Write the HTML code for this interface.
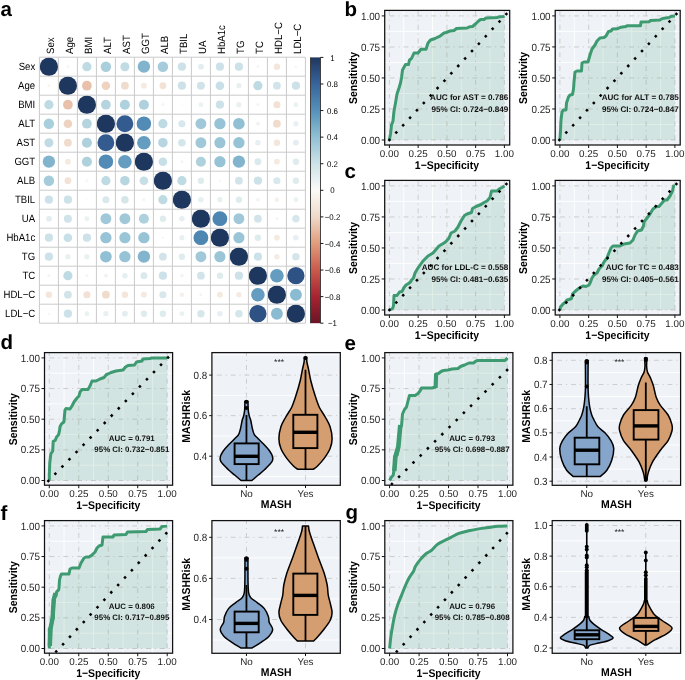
<!DOCTYPE html>
<html><head><meta charset="utf-8"><style>
html,body{margin:0;padding:0;background:#fff;}
svg{display:block;font-family:"Liberation Sans", sans-serif;text-rendering:geometricPrecision;will-change:transform;filter:blur(0.3px);}
</style></head><body>
<svg width="685" height="680" viewBox="0 0 685 680">
<rect width="685" height="680" fill="#fff"/>
<text transform="translate(0.5,15.8)" font-size="20.5" font-weight="bold" fill="#000">a</text>
<text transform="translate(344.6,15.8)" font-size="20.5" font-weight="bold" fill="#000">b</text>
<text transform="translate(344.6,177.9)" font-size="20.5" font-weight="bold" fill="#000">c</text>
<text transform="translate(0.5,348.6)" font-size="20.5" font-weight="bold" fill="#000">d</text>
<text transform="translate(344.4,349.5)" font-size="20.5" font-weight="bold" fill="#000">e</text>
<text transform="translate(0.5,519.5)" font-size="20.5" font-weight="bold" fill="#000">f</text>
<text transform="translate(345.6,519.1)" font-size="20.5" font-weight="bold" fill="#000">g</text>
<rect x="39.4" y="57.2" width="266.0" height="266.0" fill="#fff"/>
<circle cx="48.9" cy="66.7" r="9.2" fill="#1E375F"/>
<circle cx="67.9" cy="66.7" r="1.59" fill="#F9F5F1"/>
<circle cx="86.9" cy="66.7" r="4.6" fill="#BEDAE3"/>
<circle cx="105.9" cy="66.7" r="5.2" fill="#A9CEDC"/>
<circle cx="124.9" cy="66.7" r="4.51" fill="#C1DBE4"/>
<circle cx="143.9" cy="66.7" r="6.17" fill="#82B4CD"/>
<circle cx="162.9" cy="66.7" r="5.28" fill="#A6CCDB"/>
<circle cx="181.9" cy="66.7" r="4.11" fill="#CDE2E8"/>
<circle cx="200.9" cy="66.7" r="2.91" fill="#E4EEF0"/>
<circle cx="219.9" cy="66.7" r="4.11" fill="#CDE2E8"/>
<circle cx="238.9" cy="66.7" r="4.11" fill="#CDE2E8"/>
<circle cx="257.9" cy="66.7" r="1.59" fill="#F4F6F6"/>
<circle cx="276.9" cy="66.7" r="3.19" fill="#F4E6DB"/>
<circle cx="295.9" cy="66.7" r="1.3" fill="#F6F8F6"/>
<circle cx="48.9" cy="85.7" r="1.59" fill="#F9F5F1"/>
<circle cx="67.9" cy="85.7" r="9.2" fill="#1E375F"/>
<circle cx="86.9" cy="85.7" r="4.87" fill="#E9C1AA"/>
<circle cx="105.9" cy="85.7" r="4.32" fill="#EED3C0"/>
<circle cx="124.9" cy="85.7" r="3.9" fill="#F0DCCD"/>
<circle cx="143.9" cy="85.7" r="2.91" fill="#F5EAE0"/>
<circle cx="162.9" cy="85.7" r="3.44" fill="#F3E3D6"/>
<circle cx="181.9" cy="85.7" r="4.11" fill="#CDE2E8"/>
<circle cx="200.9" cy="85.7" r="4.01" fill="#CFE3E9"/>
<circle cx="219.9" cy="85.7" r="4.32" fill="#C7DFE6"/>
<circle cx="238.9" cy="85.7" r="2.6" fill="#E9F0F2"/>
<circle cx="257.9" cy="85.7" r="4.6" fill="#BEDAE3"/>
<circle cx="276.9" cy="85.7" r="3.9" fill="#D2E4EA"/>
<circle cx="295.9" cy="85.7" r="4.11" fill="#CDE2E8"/>
<circle cx="48.9" cy="104.7" r="4.6" fill="#BEDAE3"/>
<circle cx="67.9" cy="104.7" r="4.87" fill="#E9C1AA"/>
<circle cx="86.9" cy="104.7" r="9.2" fill="#1E375F"/>
<circle cx="105.9" cy="104.7" r="4.87" fill="#B5D4E0"/>
<circle cx="124.9" cy="104.7" r="5.04" fill="#AFD1DE"/>
<circle cx="143.9" cy="104.7" r="5.04" fill="#AFD1DE"/>
<circle cx="162.9" cy="104.7" r="1.59" fill="#F9F5F1"/>
<circle cx="181.9" cy="104.7" r="0.92" fill="#F9F9F7"/>
<circle cx="200.9" cy="104.7" r="2.43" fill="#EBF2F2"/>
<circle cx="219.9" cy="104.7" r="4.11" fill="#CDE2E8"/>
<circle cx="238.9" cy="104.7" r="2.6" fill="#E9F0F2"/>
<circle cx="257.9" cy="104.7" r="1.59" fill="#F4F6F6"/>
<circle cx="276.9" cy="104.7" r="3.56" fill="#F2E1D4"/>
<circle cx="295.9" cy="104.7" r="2.43" fill="#EBF2F2"/>
<circle cx="48.9" cy="123.7" r="5.2" fill="#A9CEDC"/>
<circle cx="67.9" cy="123.7" r="4.32" fill="#EED3C0"/>
<circle cx="86.9" cy="123.7" r="4.87" fill="#B5D4E0"/>
<circle cx="105.9" cy="123.7" r="9.2" fill="#1E375F"/>
<circle cx="124.9" cy="123.7" r="8.43" fill="#335B8F"/>
<circle cx="143.9" cy="123.7" r="7.24" fill="#528CB6"/>
<circle cx="162.9" cy="123.7" r="4.6" fill="#BEDAE3"/>
<circle cx="181.9" cy="123.7" r="3.56" fill="#D8E8EC"/>
<circle cx="200.9" cy="123.7" r="5.44" fill="#A0C8D9"/>
<circle cx="219.9" cy="123.7" r="5.67" fill="#97C3D6"/>
<circle cx="238.9" cy="123.7" r="5.82" fill="#91C0D4"/>
<circle cx="257.9" cy="123.7" r="2.06" fill="#F0F4F4"/>
<circle cx="276.9" cy="123.7" r="3.9" fill="#F0DCCD"/>
<circle cx="295.9" cy="123.7" r="2.6" fill="#E9F0F2"/>
<circle cx="48.9" cy="142.7" r="4.51" fill="#C1DBE4"/>
<circle cx="67.9" cy="142.7" r="3.9" fill="#F0DCCD"/>
<circle cx="86.9" cy="142.7" r="5.04" fill="#AFD1DE"/>
<circle cx="105.9" cy="142.7" r="8.43" fill="#335B8F"/>
<circle cx="124.9" cy="142.7" r="9.2" fill="#1E375F"/>
<circle cx="143.9" cy="142.7" r="6.82" fill="#649DC0"/>
<circle cx="162.9" cy="142.7" r="4.78" fill="#B8D6E1"/>
<circle cx="181.9" cy="142.7" r="3.79" fill="#D4E6EA"/>
<circle cx="200.9" cy="142.7" r="5.44" fill="#A0C8D9"/>
<circle cx="219.9" cy="142.7" r="5.6" fill="#9AC5D7"/>
<circle cx="238.9" cy="142.7" r="5.67" fill="#97C3D6"/>
<circle cx="257.9" cy="142.7" r="2.76" fill="#E6EFF1"/>
<circle cx="276.9" cy="142.7" r="3.19" fill="#F4E6DB"/>
<circle cx="295.9" cy="142.7" r="2.91" fill="#E4EEF0"/>
<circle cx="48.9" cy="161.7" r="6.17" fill="#82B4CD"/>
<circle cx="67.9" cy="161.7" r="2.91" fill="#F5EAE0"/>
<circle cx="86.9" cy="161.7" r="5.04" fill="#AFD1DE"/>
<circle cx="105.9" cy="161.7" r="7.24" fill="#528CB6"/>
<circle cx="124.9" cy="161.7" r="6.82" fill="#649DC0"/>
<circle cx="143.9" cy="161.7" r="9.2" fill="#1E375F"/>
<circle cx="162.9" cy="161.7" r="4.32" fill="#C7DFE6"/>
<circle cx="181.9" cy="161.7" r="1.59" fill="#F4F6F6"/>
<circle cx="200.9" cy="161.7" r="5.04" fill="#AFD1DE"/>
<circle cx="219.9" cy="161.7" r="5.67" fill="#97C3D6"/>
<circle cx="238.9" cy="161.7" r="6.17" fill="#82B4CD"/>
<circle cx="257.9" cy="161.7" r="3.44" fill="#DBE9ED"/>
<circle cx="276.9" cy="161.7" r="2.91" fill="#F5EAE0"/>
<circle cx="295.9" cy="161.7" r="3.19" fill="#DFECEE"/>
<circle cx="48.9" cy="180.7" r="5.28" fill="#A6CCDB"/>
<circle cx="67.9" cy="180.7" r="3.44" fill="#F3E3D6"/>
<circle cx="86.9" cy="180.7" r="1.59" fill="#F9F5F1"/>
<circle cx="105.9" cy="180.7" r="4.6" fill="#BEDAE3"/>
<circle cx="124.9" cy="180.7" r="4.78" fill="#B8D6E1"/>
<circle cx="143.9" cy="180.7" r="4.32" fill="#C7DFE6"/>
<circle cx="162.9" cy="180.7" r="9.2" fill="#1E375F"/>
<circle cx="181.9" cy="180.7" r="4.6" fill="#BEDAE3"/>
<circle cx="200.9" cy="180.7" r="3.19" fill="#DFECEE"/>
<circle cx="219.9" cy="180.7" r="1.3" fill="#F6F8F6"/>
<circle cx="238.9" cy="180.7" r="3.9" fill="#D2E4EA"/>
<circle cx="257.9" cy="180.7" r="4.11" fill="#CDE2E8"/>
<circle cx="276.9" cy="180.7" r="3.56" fill="#D8E8EC"/>
<circle cx="295.9" cy="180.7" r="3.19" fill="#DFECEE"/>
<circle cx="48.9" cy="199.7" r="4.11" fill="#CDE2E8"/>
<circle cx="67.9" cy="199.7" r="4.11" fill="#CDE2E8"/>
<circle cx="86.9" cy="199.7" r="0.92" fill="#F9F9F7"/>
<circle cx="105.9" cy="199.7" r="3.56" fill="#D8E8EC"/>
<circle cx="124.9" cy="199.7" r="3.79" fill="#D4E6EA"/>
<circle cx="143.9" cy="199.7" r="1.59" fill="#F4F6F6"/>
<circle cx="162.9" cy="199.7" r="4.6" fill="#BEDAE3"/>
<circle cx="181.9" cy="199.7" r="9.2" fill="#1E375F"/>
<circle cx="200.9" cy="199.7" r="2.76" fill="#E6EFF1"/>
<circle cx="219.9" cy="199.7" r="2.6" fill="#E9F0F2"/>
<circle cx="238.9" cy="199.7" r="3.19" fill="#DFECEE"/>
<circle cx="257.9" cy="199.7" r="1.84" fill="#F2F5F5"/>
<circle cx="276.9" cy="199.7" r="2.25" fill="#F7F0EA"/>
<circle cx="295.9" cy="199.7" r="2.43" fill="#EBF2F2"/>
<circle cx="48.9" cy="218.7" r="2.91" fill="#E4EEF0"/>
<circle cx="67.9" cy="218.7" r="4.01" fill="#CFE3E9"/>
<circle cx="86.9" cy="218.7" r="2.43" fill="#EBF2F2"/>
<circle cx="105.9" cy="218.7" r="5.44" fill="#A0C8D9"/>
<circle cx="124.9" cy="218.7" r="5.44" fill="#A0C8D9"/>
<circle cx="143.9" cy="218.7" r="5.04" fill="#AFD1DE"/>
<circle cx="162.9" cy="218.7" r="3.19" fill="#DFECEE"/>
<circle cx="181.9" cy="218.7" r="2.76" fill="#E6EFF1"/>
<circle cx="200.9" cy="218.7" r="9.2" fill="#1E375F"/>
<circle cx="219.9" cy="218.7" r="7.42" fill="#4E86B2"/>
<circle cx="238.9" cy="218.7" r="5.44" fill="#A0C8D9"/>
<circle cx="257.9" cy="218.7" r="3.9" fill="#D2E4EA"/>
<circle cx="276.9" cy="218.7" r="1.59" fill="#F4F6F6"/>
<circle cx="295.9" cy="218.7" r="3.68" fill="#D6E7EB"/>
<circle cx="48.9" cy="237.7" r="4.11" fill="#CDE2E8"/>
<circle cx="67.9" cy="237.7" r="4.32" fill="#C7DFE6"/>
<circle cx="86.9" cy="237.7" r="4.11" fill="#CDE2E8"/>
<circle cx="105.9" cy="237.7" r="5.67" fill="#97C3D6"/>
<circle cx="124.9" cy="237.7" r="5.6" fill="#9AC5D7"/>
<circle cx="143.9" cy="237.7" r="5.67" fill="#97C3D6"/>
<circle cx="162.9" cy="237.7" r="1.3" fill="#F6F8F6"/>
<circle cx="181.9" cy="237.7" r="2.6" fill="#E9F0F2"/>
<circle cx="200.9" cy="237.7" r="7.42" fill="#4E86B2"/>
<circle cx="219.9" cy="237.7" r="9.2" fill="#1E375F"/>
<circle cx="238.9" cy="237.7" r="5.6" fill="#9AC5D7"/>
<circle cx="257.9" cy="237.7" r="3.19" fill="#DFECEE"/>
<circle cx="276.9" cy="237.7" r="2.91" fill="#F5EAE0"/>
<circle cx="295.9" cy="237.7" r="2.76" fill="#E6EFF1"/>
<circle cx="48.9" cy="256.7" r="4.11" fill="#CDE2E8"/>
<circle cx="67.9" cy="256.7" r="2.6" fill="#E9F0F2"/>
<circle cx="86.9" cy="256.7" r="2.6" fill="#E9F0F2"/>
<circle cx="105.9" cy="256.7" r="5.82" fill="#91C0D4"/>
<circle cx="124.9" cy="256.7" r="5.67" fill="#97C3D6"/>
<circle cx="143.9" cy="256.7" r="6.17" fill="#82B4CD"/>
<circle cx="162.9" cy="256.7" r="3.9" fill="#D2E4EA"/>
<circle cx="181.9" cy="256.7" r="3.19" fill="#DFECEE"/>
<circle cx="200.9" cy="256.7" r="5.44" fill="#A0C8D9"/>
<circle cx="219.9" cy="256.7" r="5.6" fill="#9AC5D7"/>
<circle cx="238.9" cy="256.7" r="9.2" fill="#1E375F"/>
<circle cx="257.9" cy="256.7" r="4.11" fill="#CDE2E8"/>
<circle cx="276.9" cy="256.7" r="2.76" fill="#F6EBE2"/>
<circle cx="295.9" cy="256.7" r="3.79" fill="#D4E6EA"/>
<circle cx="48.9" cy="275.7" r="1.59" fill="#F4F6F6"/>
<circle cx="67.9" cy="275.7" r="4.6" fill="#BEDAE3"/>
<circle cx="86.9" cy="275.7" r="1.59" fill="#F4F6F6"/>
<circle cx="105.9" cy="275.7" r="2.06" fill="#F0F4F4"/>
<circle cx="124.9" cy="275.7" r="2.76" fill="#E6EFF1"/>
<circle cx="143.9" cy="275.7" r="3.44" fill="#DBE9ED"/>
<circle cx="162.9" cy="275.7" r="4.11" fill="#CDE2E8"/>
<circle cx="181.9" cy="275.7" r="1.84" fill="#F2F5F5"/>
<circle cx="200.9" cy="275.7" r="3.9" fill="#D2E4EA"/>
<circle cx="219.9" cy="275.7" r="3.19" fill="#DFECEE"/>
<circle cx="238.9" cy="275.7" r="4.11" fill="#CDE2E8"/>
<circle cx="257.9" cy="275.7" r="9.2" fill="#1E375F"/>
<circle cx="276.9" cy="275.7" r="6.82" fill="#649DC0"/>
<circle cx="295.9" cy="275.7" r="8.63" fill="#2E5283"/>
<circle cx="48.9" cy="294.7" r="3.19" fill="#F4E6DB"/>
<circle cx="67.9" cy="294.7" r="3.9" fill="#D2E4EA"/>
<circle cx="86.9" cy="294.7" r="3.56" fill="#F2E1D4"/>
<circle cx="105.9" cy="294.7" r="3.9" fill="#F0DCCD"/>
<circle cx="124.9" cy="294.7" r="3.19" fill="#F4E6DB"/>
<circle cx="143.9" cy="294.7" r="2.91" fill="#F5EAE0"/>
<circle cx="162.9" cy="294.7" r="3.56" fill="#D8E8EC"/>
<circle cx="181.9" cy="294.7" r="2.25" fill="#F7F0EA"/>
<circle cx="200.9" cy="294.7" r="1.59" fill="#F4F6F6"/>
<circle cx="219.9" cy="294.7" r="2.91" fill="#F5EAE0"/>
<circle cx="238.9" cy="294.7" r="2.76" fill="#F6EBE2"/>
<circle cx="257.9" cy="294.7" r="6.82" fill="#649DC0"/>
<circle cx="276.9" cy="294.7" r="9.2" fill="#1E375F"/>
<circle cx="295.9" cy="294.7" r="5.96" fill="#8BBBD1"/>
<circle cx="48.9" cy="313.7" r="1.3" fill="#F6F8F6"/>
<circle cx="67.9" cy="313.7" r="4.11" fill="#CDE2E8"/>
<circle cx="86.9" cy="313.7" r="2.43" fill="#EBF2F2"/>
<circle cx="105.9" cy="313.7" r="2.6" fill="#E9F0F2"/>
<circle cx="124.9" cy="313.7" r="2.91" fill="#E4EEF0"/>
<circle cx="143.9" cy="313.7" r="3.19" fill="#DFECEE"/>
<circle cx="162.9" cy="313.7" r="3.19" fill="#DFECEE"/>
<circle cx="181.9" cy="313.7" r="2.43" fill="#EBF2F2"/>
<circle cx="200.9" cy="313.7" r="3.68" fill="#D6E7EB"/>
<circle cx="219.9" cy="313.7" r="2.76" fill="#E6EFF1"/>
<circle cx="238.9" cy="313.7" r="3.79" fill="#D4E6EA"/>
<circle cx="257.9" cy="313.7" r="8.63" fill="#2E5283"/>
<circle cx="276.9" cy="313.7" r="5.96" fill="#8BBBD1"/>
<circle cx="295.9" cy="313.7" r="9.2" fill="#1E375F"/>
<path d="M39.4 57.2V323.2M39.4 57.2H305.4M58.4 57.2V323.2M39.4 76.2H305.4M77.4 57.2V323.2M39.4 95.2H305.4M96.4 57.2V323.2M39.4 114.2H305.4M115.4 57.2V323.2M39.4 133.2H305.4M134.4 57.2V323.2M39.4 152.2H305.4M153.4 57.2V323.2M39.4 171.2H305.4M172.4 57.2V323.2M39.4 190.2H305.4M191.4 57.2V323.2M39.4 209.2H305.4M210.4 57.2V323.2M39.4 228.2H305.4M229.4 57.2V323.2M39.4 247.2H305.4M248.4 57.2V323.2M39.4 266.2H305.4M267.4 57.2V323.2M39.4 285.2H305.4M286.4 57.2V323.2M39.4 304.2H305.4M305.4 57.2V323.2M39.4 323.2H305.4" stroke="#CACACA" stroke-width="1" fill="none"/>
<text transform="translate(35.2,70.1) scale(1,1.1)" font-size="9.6" text-anchor="end" fill="#000">Sex</text>
<text transform="translate(53.6,53.9) rotate(-90) scale(1,1.1)" font-size="9.6" fill="#000">Sex</text>
<text transform="translate(35.2,89.1) scale(1,1.1)" font-size="9.6" text-anchor="end" fill="#000">Age</text>
<text transform="translate(72.6,53.9) rotate(-90) scale(1,1.1)" font-size="9.6" fill="#000">Age</text>
<text transform="translate(35.2,108.1) scale(1,1.1)" font-size="9.6" text-anchor="end" fill="#000">BMI</text>
<text transform="translate(91.6,53.9) rotate(-90) scale(1,1.1)" font-size="9.6" fill="#000">BMI</text>
<text transform="translate(35.2,127.1) scale(1,1.1)" font-size="9.6" text-anchor="end" fill="#000">ALT</text>
<text transform="translate(110.6,53.9) rotate(-90) scale(1,1.1)" font-size="9.6" fill="#000">ALT</text>
<text transform="translate(35.2,146.1) scale(1,1.1)" font-size="9.6" text-anchor="end" fill="#000">AST</text>
<text transform="translate(129.6,53.9) rotate(-90) scale(1,1.1)" font-size="9.6" fill="#000">AST</text>
<text transform="translate(35.2,165.1) scale(1,1.1)" font-size="9.6" text-anchor="end" fill="#000">GGT</text>
<text transform="translate(148.6,53.9) rotate(-90) scale(1,1.1)" font-size="9.6" fill="#000">GGT</text>
<text transform="translate(35.2,184.1) scale(1,1.1)" font-size="9.6" text-anchor="end" fill="#000">ALB</text>
<text transform="translate(167.6,53.9) rotate(-90) scale(1,1.1)" font-size="9.6" fill="#000">ALB</text>
<text transform="translate(35.2,203.1) scale(1,1.1)" font-size="9.6" text-anchor="end" fill="#000">TBIL</text>
<text transform="translate(186.6,53.9) rotate(-90) scale(1,1.1)" font-size="9.6" fill="#000">TBIL</text>
<text transform="translate(35.2,222.1) scale(1,1.1)" font-size="9.6" text-anchor="end" fill="#000">UA</text>
<text transform="translate(205.6,53.9) rotate(-90) scale(1,1.1)" font-size="9.6" fill="#000">UA</text>
<text transform="translate(35.2,241.1) scale(1,1.1)" font-size="9.6" text-anchor="end" fill="#000">HbA1c</text>
<text transform="translate(224.6,53.9) rotate(-90) scale(1,1.1)" font-size="9.6" fill="#000">HbA1c</text>
<text transform="translate(35.2,260.1) scale(1,1.1)" font-size="9.6" text-anchor="end" fill="#000">TG</text>
<text transform="translate(243.6,53.9) rotate(-90) scale(1,1.1)" font-size="9.6" fill="#000">TG</text>
<text transform="translate(35.2,279.1) scale(1,1.1)" font-size="9.6" text-anchor="end" fill="#000">TC</text>
<text transform="translate(262.6,53.9) rotate(-90) scale(1,1.1)" font-size="9.6" fill="#000">TC</text>
<text transform="translate(35.2,298.1) scale(1,1.1)" font-size="9.6" text-anchor="end" fill="#000">HDL−C</text>
<text transform="translate(281.6,53.9) rotate(-90) scale(1,1.1)" font-size="9.6" fill="#000">HDL−C</text>
<text transform="translate(35.2,317.1) scale(1,1.1)" font-size="9.6" text-anchor="end" fill="#000">LDL−C</text>
<text transform="translate(300.6,53.9) rotate(-90) scale(1,1.1)" font-size="9.6" fill="#000">LDL−C</text>
<defs><linearGradient id="cb" x1="0" y1="0" x2="0" y2="1"><stop offset="0.0" stop-color="#1E375F"/><stop offset="0.1" stop-color="#38649B"/><stop offset="0.2" stop-color="#5591B9"/><stop offset="0.3" stop-color="#91C0D4"/><stop offset="0.4" stop-color="#CDE2E8"/><stop offset="0.5" stop-color="#FBFAF8"/><stop offset="0.6" stop-color="#EFD9C8"/><stop offset="0.7" stop-color="#E19C7C"/><stop offset="0.8" stop-color="#C95A4C"/><stop offset="0.9" stop-color="#A72331"/><stop offset="1.0" stop-color="#6A1526"/></linearGradient></defs>
<rect x="310.5" y="57.4" width="10" height="265.8" fill="url(#cb)"/>
<path d="M310.5 57.4V323.2M320.5 57.4V323.2" stroke="#333" stroke-width="0.9"/>
<text transform="translate(332.5,60.5) scale(1,1.05)" font-size="7.9" text-anchor="middle" fill="#000">1</text>
<text transform="translate(332.5,87.08) scale(1,1.05)" font-size="7.9" text-anchor="middle" fill="#000">0.8</text>
<text transform="translate(332.5,113.66) scale(1,1.05)" font-size="7.9" text-anchor="middle" fill="#000">0.6</text>
<text transform="translate(332.5,140.24) scale(1,1.05)" font-size="7.9" text-anchor="middle" fill="#000">0.4</text>
<text transform="translate(332.5,166.82) scale(1,1.05)" font-size="7.9" text-anchor="middle" fill="#000">0.2</text>
<text transform="translate(332.5,193.4) scale(1,1.05)" font-size="7.9" text-anchor="middle" fill="#000">0</text>
<text transform="translate(332.5,219.98) scale(1,1.05)" font-size="7.9" text-anchor="middle" fill="#000">−0.2</text>
<text transform="translate(332.5,246.56) scale(1,1.05)" font-size="7.9" text-anchor="middle" fill="#000">−0.4</text>
<text transform="translate(332.5,273.14) scale(1,1.05)" font-size="7.9" text-anchor="middle" fill="#000">−0.6</text>
<text transform="translate(332.5,299.72) scale(1,1.05)" font-size="7.9" text-anchor="middle" fill="#000">−0.8</text>
<text transform="translate(332.5,326.3) scale(1,1.05)" font-size="7.9" text-anchor="middle" fill="#000">−1</text>
<path d="M320.5 57.4h2.9M320.5 83.98h2.9M320.5 110.56h2.9M320.5 137.14h2.9M320.5 163.72h2.9M320.5 190.3h2.9M320.5 216.88h2.9M320.5 243.46h2.9M320.5 270.04h2.9M320.5 296.62h2.9M320.5 323.2h2.9" stroke="#000" stroke-width="0.9"/>
<rect x="384.7" y="10.4" width="125" height="134.6" fill="#EFF2F7"/>
<path d="M403.77 10.4V145M384.7 124.49H509.7M432.52 10.4V145M384.7 93.46H509.7M461.27 10.4V145M384.7 62.44H509.7M490.02 10.4V145M384.7 31.41H509.7" stroke="#fff" stroke-width="0.9"/>
<path d="M389.4 145V10.4M384.7 140H509.7M418.15 145V10.4M384.7 108.97H509.7M446.9 145V10.4M384.7 77.95H509.7M475.65 145V10.4M384.7 46.93H509.7M504.4 145V10.4M384.7 15.9H509.7" stroke="#C8C8C8" stroke-width="0.9" stroke-dasharray="1.1 3.9 4.9 3.9"/>
<path d="M389.4 140L390.5 134L391.5 125L393 121L394 111L395.5 103L397 94L399 88L400.5 83L401.5 78L402.5 70L405.5 64.5L408.5 64.5L409.5 60L411.5 58.5L414 53L418 53L421 49.2L426 49.2L428 43L430.5 40L435 38.5L440 36.2L444 33L446 32.5L450 31L454 30.5L456.5 28.5L461 28.3L467 28L469.5 26.8L472.5 26.5L476 23.5L478 21.5L480.5 19.5L484 19.5L486 18L491 17.8L497 17.5L499 16.8L503.5 16.5L504.4 15.9L504.4 140Z" fill="#3E9A70" fill-opacity="0.16"/>
<path d="M389.4 140L390.5 134L391.5 125L393 121L394 111L395.5 103L397 94L399 88L400.5 83L401.5 78L402.5 70L405.5 64.5L408.5 64.5L409.5 60L411.5 58.5L414 53L418 53L421 49.2L426 49.2L428 43L430.5 40L435 38.5L440 36.2L444 33L446 32.5L450 31L454 30.5L456.5 28.5L461 28.3L467 28L469.5 26.8L472.5 26.5L476 23.5L478 21.5L480.5 19.5L484 19.5L486 18L491 17.8L497 17.5L499 16.8L503.5 16.5L504.4 15.9" fill="none" stroke="#3E9A70" stroke-width="3.0" stroke-linejoin="round"/>
<rect x="388.15" y="138.75" width="2.5" height="2.5" fill="#000" transform="rotate(45 389.4 140)"/>
<rect x="395.03" y="131.34" width="2.5" height="2.5" fill="#000" transform="rotate(45 396.28 132.59)"/>
<rect x="401.91" y="123.93" width="2.5" height="2.5" fill="#000" transform="rotate(45 403.16 125.18)"/>
<rect x="408.8" y="116.51" width="2.5" height="2.5" fill="#000" transform="rotate(45 410.05 117.76)"/>
<rect x="415.68" y="109.1" width="2.5" height="2.5" fill="#000" transform="rotate(45 416.93 110.35)"/>
<rect x="422.56" y="101.69" width="2.5" height="2.5" fill="#000" transform="rotate(45 423.81 102.94)"/>
<rect x="429.44" y="94.28" width="2.5" height="2.5" fill="#000" transform="rotate(45 430.69 95.53)"/>
<rect x="436.33" y="86.87" width="2.5" height="2.5" fill="#000" transform="rotate(45 437.58 88.12)"/>
<rect x="443.21" y="79.46" width="2.5" height="2.5" fill="#000" transform="rotate(45 444.46 80.71)"/>
<rect x="450.09" y="72.04" width="2.5" height="2.5" fill="#000" transform="rotate(45 451.34 73.29)"/>
<rect x="456.97" y="64.63" width="2.5" height="2.5" fill="#000" transform="rotate(45 458.22 65.88)"/>
<rect x="463.86" y="57.22" width="2.5" height="2.5" fill="#000" transform="rotate(45 465.11 58.47)"/>
<rect x="470.74" y="49.81" width="2.5" height="2.5" fill="#000" transform="rotate(45 471.99 51.06)"/>
<rect x="477.62" y="42.4" width="2.5" height="2.5" fill="#000" transform="rotate(45 478.87 43.65)"/>
<rect x="484.5" y="34.99" width="2.5" height="2.5" fill="#000" transform="rotate(45 485.75 36.24)"/>
<rect x="491.39" y="27.57" width="2.5" height="2.5" fill="#000" transform="rotate(45 492.64 28.82)"/>
<rect x="498.27" y="20.16" width="2.5" height="2.5" fill="#000" transform="rotate(45 499.52 21.41)"/>
<rect x="505.15" y="12.75" width="2.5" height="2.5" fill="#000" transform="rotate(45 506.4 14)"/>
<text transform="translate(508.3,99.7)" font-size="8.1" font-weight="bold" text-anchor="end" fill="#111">AUC for AST = 0.786</text>
<text transform="translate(508.3,111.5)" font-size="8.1" font-weight="bold" text-anchor="end" fill="#111">95% CI: 0.724−0.849</text>
<rect x="384.7" y="10.4" width="125" height="134.6" fill="none" stroke="#111" stroke-width="1.25"/>
<text transform="translate(380.1,143.6) scale(1,1.07)" font-size="9.85" text-anchor="end" fill="#262626">0.00</text>
<text transform="translate(389.4,156.6)" font-size="9.85" text-anchor="middle" fill="#262626">0.00</text>
<text transform="translate(380.1,112.57) scale(1,1.07)" font-size="9.85" text-anchor="end" fill="#262626">0.25</text>
<text transform="translate(418.15,156.6)" font-size="9.85" text-anchor="middle" fill="#262626">0.25</text>
<text transform="translate(380.1,81.55) scale(1,1.07)" font-size="9.85" text-anchor="end" fill="#262626">0.50</text>
<text transform="translate(446.9,156.6)" font-size="9.85" text-anchor="middle" fill="#262626">0.50</text>
<text transform="translate(380.1,50.53) scale(1,1.07)" font-size="9.85" text-anchor="end" fill="#262626">0.75</text>
<text transform="translate(475.65,156.6)" font-size="9.85" text-anchor="middle" fill="#262626">0.75</text>
<text transform="translate(380.1,19.5) scale(1,1.07)" font-size="9.85" text-anchor="end" fill="#262626">1.00</text>
<text transform="translate(504.4,156.6)" font-size="9.85" text-anchor="middle" fill="#262626">1.00</text>
<path d="M384.7 140h-3M389.4 145v3M384.7 108.97h-3M418.15 145v3M384.7 77.95h-3M446.9 145v3M384.7 46.93h-3M475.65 145v3M384.7 15.9h-3M504.4 145v3" stroke="#111" stroke-width="1"/>
<text transform="translate(446.9,169.2) scale(1,1.07)" font-size="10.45" font-weight="bold" text-anchor="middle" fill="#000">1−Specificity</text>
<text transform="translate(356.7,77.95) rotate(-90) scale(1,1.09)" font-size="10.45" font-weight="bold" text-anchor="middle" fill="#000">Sensitivity</text>
<rect x="555.2" y="10.4" width="125" height="134.6" fill="#EFF2F7"/>
<path d="M574.27 10.4V145M555.2 124.49H680.2M603.02 10.4V145M555.2 93.46H680.2M631.77 10.4V145M555.2 62.44H680.2M660.52 10.4V145M555.2 31.41H680.2" stroke="#fff" stroke-width="0.9"/>
<path d="M559.9 145V10.4M555.2 140H680.2M588.65 145V10.4M555.2 108.97H680.2M617.4 145V10.4M555.2 77.95H680.2M646.15 145V10.4M555.2 46.93H680.2M674.9 145V10.4M555.2 15.9H680.2" stroke="#C8C8C8" stroke-width="0.9" stroke-dasharray="1.1 3.9 4.9 3.9"/>
<path d="M559.9 140L560.5 131L561 120L562 112L563.5 110L566 110L566.5 103L568.5 97L570 95L572.5 94.5L573.5 89L574 82L575 72L577 71L581.5 71L582 63L584 62L588 62L590 55L592 49L595 45L597 41L600 38L604 37.5L606 36L608.5 31.5L611 31L612.5 29L617 28.8L621 27.2L626 26.5L627 25.8L640.5 25.8L641 22L649 21.8L650.5 20.5L660 20L661 19.2L664 18.2L669 17.5L671.5 16.2L674.9 15.9L674.9 140Z" fill="#3E9A70" fill-opacity="0.16"/>
<path d="M559.9 140L560.5 131L561 120L562 112L563.5 110L566 110L566.5 103L568.5 97L570 95L572.5 94.5L573.5 89L574 82L575 72L577 71L581.5 71L582 63L584 62L588 62L590 55L592 49L595 45L597 41L600 38L604 37.5L606 36L608.5 31.5L611 31L612.5 29L617 28.8L621 27.2L626 26.5L627 25.8L640.5 25.8L641 22L649 21.8L650.5 20.5L660 20L661 19.2L664 18.2L669 17.5L671.5 16.2L674.9 15.9" fill="none" stroke="#3E9A70" stroke-width="3.0" stroke-linejoin="round"/>
<rect x="558.15" y="138.75" width="2.5" height="2.5" fill="#000" transform="rotate(45 559.4 140)"/>
<rect x="565.03" y="131.34" width="2.5" height="2.5" fill="#000" transform="rotate(45 566.28 132.59)"/>
<rect x="571.91" y="123.93" width="2.5" height="2.5" fill="#000" transform="rotate(45 573.16 125.18)"/>
<rect x="578.8" y="116.51" width="2.5" height="2.5" fill="#000" transform="rotate(45 580.05 117.76)"/>
<rect x="585.68" y="109.1" width="2.5" height="2.5" fill="#000" transform="rotate(45 586.93 110.35)"/>
<rect x="592.56" y="101.69" width="2.5" height="2.5" fill="#000" transform="rotate(45 593.81 102.94)"/>
<rect x="599.44" y="94.28" width="2.5" height="2.5" fill="#000" transform="rotate(45 600.69 95.53)"/>
<rect x="606.33" y="86.87" width="2.5" height="2.5" fill="#000" transform="rotate(45 607.58 88.12)"/>
<rect x="613.21" y="79.46" width="2.5" height="2.5" fill="#000" transform="rotate(45 614.46 80.71)"/>
<rect x="620.09" y="72.04" width="2.5" height="2.5" fill="#000" transform="rotate(45 621.34 73.29)"/>
<rect x="626.97" y="64.63" width="2.5" height="2.5" fill="#000" transform="rotate(45 628.22 65.88)"/>
<rect x="633.86" y="57.22" width="2.5" height="2.5" fill="#000" transform="rotate(45 635.11 58.47)"/>
<rect x="640.74" y="49.81" width="2.5" height="2.5" fill="#000" transform="rotate(45 641.99 51.06)"/>
<rect x="647.62" y="42.4" width="2.5" height="2.5" fill="#000" transform="rotate(45 648.87 43.65)"/>
<rect x="654.5" y="34.99" width="2.5" height="2.5" fill="#000" transform="rotate(45 655.75 36.24)"/>
<rect x="661.39" y="27.57" width="2.5" height="2.5" fill="#000" transform="rotate(45 662.64 28.82)"/>
<rect x="668.27" y="20.16" width="2.5" height="2.5" fill="#000" transform="rotate(45 669.52 21.41)"/>
<rect x="675.15" y="12.75" width="2.5" height="2.5" fill="#000" transform="rotate(45 676.4 14)"/>
<text transform="translate(678.8,99.7)" font-size="8.1" font-weight="bold" text-anchor="end" fill="#111">AUC for ALT = 0.785</text>
<text transform="translate(678.8,111.5)" font-size="8.1" font-weight="bold" text-anchor="end" fill="#111">95% CI: 0.724−0.847</text>
<rect x="555.2" y="10.4" width="125" height="134.6" fill="none" stroke="#111" stroke-width="1.25"/>
<text transform="translate(550.6,143.6) scale(1,1.07)" font-size="9.85" text-anchor="end" fill="#262626">0.00</text>
<text transform="translate(559.9,156.6)" font-size="9.85" text-anchor="middle" fill="#262626">0.00</text>
<text transform="translate(550.6,112.57) scale(1,1.07)" font-size="9.85" text-anchor="end" fill="#262626">0.25</text>
<text transform="translate(588.65,156.6)" font-size="9.85" text-anchor="middle" fill="#262626">0.25</text>
<text transform="translate(550.6,81.55) scale(1,1.07)" font-size="9.85" text-anchor="end" fill="#262626">0.50</text>
<text transform="translate(617.4,156.6)" font-size="9.85" text-anchor="middle" fill="#262626">0.50</text>
<text transform="translate(550.6,50.53) scale(1,1.07)" font-size="9.85" text-anchor="end" fill="#262626">0.75</text>
<text transform="translate(646.15,156.6)" font-size="9.85" text-anchor="middle" fill="#262626">0.75</text>
<text transform="translate(550.6,19.5) scale(1,1.07)" font-size="9.85" text-anchor="end" fill="#262626">1.00</text>
<text transform="translate(674.9,156.6)" font-size="9.85" text-anchor="middle" fill="#262626">1.00</text>
<path d="M555.2 140h-3M559.9 145v3M555.2 108.97h-3M588.65 145v3M555.2 77.95h-3M617.4 145v3M555.2 46.93h-3M646.15 145v3M555.2 15.9h-3M674.9 145v3" stroke="#111" stroke-width="1"/>
<text transform="translate(617.4,169.2) scale(1,1.07)" font-size="10.45" font-weight="bold" text-anchor="middle" fill="#000">1−Specificity</text>
<text transform="translate(527.2,77.95) rotate(-90) scale(1,1.09)" font-size="10.45" font-weight="bold" text-anchor="middle" fill="#000">Sensitivity</text>
<rect x="384.7" y="180.4" width="125" height="134.6" fill="#EFF2F7"/>
<path d="M403.77 180.4V315M384.7 294.49H509.7M432.52 180.4V315M384.7 263.46H509.7M461.27 180.4V315M384.7 232.44H509.7M490.02 180.4V315M384.7 201.41H509.7" stroke="#fff" stroke-width="0.9"/>
<path d="M389.4 315V180.4M384.7 310H509.7M418.15 315V180.4M384.7 278.98H509.7M446.9 315V180.4M384.7 247.95H509.7M475.65 315V180.4M384.7 216.93H509.7M504.4 315V180.4M384.7 185.9H509.7" stroke="#C8C8C8" stroke-width="0.9" stroke-dasharray="1.1 3.9 4.9 3.9"/>
<path d="M389.4 310L392.5 308.5L393.5 306L394 295.5L397 295.5L399.5 292L402 291.5L404 287.5L406 285L408.5 283.5L410.5 282L411.5 280L413.5 278L415 273L418 268L423 261L428 256L433 253L439 246L444 243L446 241.5L449 238L451 233L455 231L458 227L461 221L464.5 215.5L467 214L471.5 212.5L472.5 208.5L476 206.5L481 204.5L484 202.5L487 201L490 197.5L491.5 191L497 191L500 188.5L503 187L504.4 185.9L504.4 310Z" fill="#3E9A70" fill-opacity="0.16"/>
<path d="M389.4 310L392.5 308.5L393.5 306L394 295.5L397 295.5L399.5 292L402 291.5L404 287.5L406 285L408.5 283.5L410.5 282L411.5 280L413.5 278L415 273L418 268L423 261L428 256L433 253L439 246L444 243L446 241.5L449 238L451 233L455 231L458 227L461 221L464.5 215.5L467 214L471.5 212.5L472.5 208.5L476 206.5L481 204.5L484 202.5L487 201L490 197.5L491.5 191L497 191L500 188.5L503 187L504.4 185.9" fill="none" stroke="#3E9A70" stroke-width="3.0" stroke-linejoin="round"/>
<rect x="388.15" y="308.75" width="2.5" height="2.5" fill="#000" transform="rotate(45 389.4 310)"/>
<rect x="395.03" y="301.34" width="2.5" height="2.5" fill="#000" transform="rotate(45 396.28 302.59)"/>
<rect x="401.91" y="293.93" width="2.5" height="2.5" fill="#000" transform="rotate(45 403.16 295.18)"/>
<rect x="408.8" y="286.51" width="2.5" height="2.5" fill="#000" transform="rotate(45 410.05 287.76)"/>
<rect x="415.68" y="279.1" width="2.5" height="2.5" fill="#000" transform="rotate(45 416.93 280.35)"/>
<rect x="422.56" y="271.69" width="2.5" height="2.5" fill="#000" transform="rotate(45 423.81 272.94)"/>
<rect x="429.44" y="264.28" width="2.5" height="2.5" fill="#000" transform="rotate(45 430.69 265.53)"/>
<rect x="436.33" y="256.87" width="2.5" height="2.5" fill="#000" transform="rotate(45 437.58 258.12)"/>
<rect x="443.21" y="249.46" width="2.5" height="2.5" fill="#000" transform="rotate(45 444.46 250.71)"/>
<rect x="450.09" y="242.04" width="2.5" height="2.5" fill="#000" transform="rotate(45 451.34 243.29)"/>
<rect x="456.97" y="234.63" width="2.5" height="2.5" fill="#000" transform="rotate(45 458.22 235.88)"/>
<rect x="463.86" y="227.22" width="2.5" height="2.5" fill="#000" transform="rotate(45 465.11 228.47)"/>
<rect x="470.74" y="219.81" width="2.5" height="2.5" fill="#000" transform="rotate(45 471.99 221.06)"/>
<rect x="477.62" y="212.4" width="2.5" height="2.5" fill="#000" transform="rotate(45 478.87 213.65)"/>
<rect x="484.5" y="204.99" width="2.5" height="2.5" fill="#000" transform="rotate(45 485.75 206.24)"/>
<rect x="491.39" y="197.57" width="2.5" height="2.5" fill="#000" transform="rotate(45 492.64 198.82)"/>
<rect x="498.27" y="190.16" width="2.5" height="2.5" fill="#000" transform="rotate(45 499.52 191.41)"/>
<rect x="505.15" y="182.75" width="2.5" height="2.5" fill="#000" transform="rotate(45 506.4 184)"/>
<text transform="translate(508.3,269.7)" font-size="8.1" font-weight="bold" text-anchor="end" fill="#111">AUC for LDL-C = 0.558</text>
<text transform="translate(508.3,281.5)" font-size="8.1" font-weight="bold" text-anchor="end" fill="#111">95% CI: 0.481−0.635</text>
<rect x="384.7" y="180.4" width="125" height="134.6" fill="none" stroke="#111" stroke-width="1.25"/>
<text transform="translate(380.1,313.6) scale(1,1.07)" font-size="9.85" text-anchor="end" fill="#262626">0.00</text>
<text transform="translate(389.4,326.6)" font-size="9.85" text-anchor="middle" fill="#262626">0.00</text>
<text transform="translate(380.1,282.58) scale(1,1.07)" font-size="9.85" text-anchor="end" fill="#262626">0.25</text>
<text transform="translate(418.15,326.6)" font-size="9.85" text-anchor="middle" fill="#262626">0.25</text>
<text transform="translate(380.1,251.55) scale(1,1.07)" font-size="9.85" text-anchor="end" fill="#262626">0.50</text>
<text transform="translate(446.9,326.6)" font-size="9.85" text-anchor="middle" fill="#262626">0.50</text>
<text transform="translate(380.1,220.53) scale(1,1.07)" font-size="9.85" text-anchor="end" fill="#262626">0.75</text>
<text transform="translate(475.65,326.6)" font-size="9.85" text-anchor="middle" fill="#262626">0.75</text>
<text transform="translate(380.1,189.5) scale(1,1.07)" font-size="9.85" text-anchor="end" fill="#262626">1.00</text>
<text transform="translate(504.4,326.6)" font-size="9.85" text-anchor="middle" fill="#262626">1.00</text>
<path d="M384.7 310h-3M389.4 315v3M384.7 278.98h-3M418.15 315v3M384.7 247.95h-3M446.9 315v3M384.7 216.93h-3M475.65 315v3M384.7 185.9h-3M504.4 315v3" stroke="#111" stroke-width="1"/>
<text transform="translate(446.9,339.2) scale(1,1.07)" font-size="10.45" font-weight="bold" text-anchor="middle" fill="#000">1−Specificity</text>
<text transform="translate(356.7,247.95) rotate(-90) scale(1,1.09)" font-size="10.45" font-weight="bold" text-anchor="middle" fill="#000">Sensitivity</text>
<rect x="555.2" y="180.4" width="125" height="134.6" fill="#EFF2F7"/>
<path d="M574.27 180.4V315M555.2 294.49H680.2M603.02 180.4V315M555.2 263.46H680.2M631.77 180.4V315M555.2 232.44H680.2M660.52 180.4V315M555.2 201.41H680.2" stroke="#fff" stroke-width="0.9"/>
<path d="M559.9 315V180.4M555.2 310H680.2M588.65 315V180.4M555.2 278.98H680.2M617.4 315V180.4M555.2 247.95H680.2M646.15 315V180.4M555.2 216.93H680.2M674.9 315V180.4M555.2 185.9H680.2" stroke="#C8C8C8" stroke-width="0.9" stroke-dasharray="1.1 3.9 4.9 3.9"/>
<path d="M559.9 310L560.5 307L563 304L565 302.5L567 300L569 299.5L571.5 298.5L572.5 294L575 291.5L578 289L581 287L583 286L586 286.5L589 285L590.5 282L592 278L594 275L597 273L599 269L602 266L604 262L607 258L608.5 254L611 248L613 246L620 246L624 244L630 243L633 240L635 235L637.5 231L641.5 230L643.5 226L644 222L647 218L650 214L653 209L656.5 206.5L659 206.5L662 203L664.5 200L667 200L670 196L672.5 191L673.5 186L674.9 185.9L674.9 310Z" fill="#3E9A70" fill-opacity="0.16"/>
<path d="M559.9 310L560.5 307L563 304L565 302.5L567 300L569 299.5L571.5 298.5L572.5 294L575 291.5L578 289L581 287L583 286L586 286.5L589 285L590.5 282L592 278L594 275L597 273L599 269L602 266L604 262L607 258L608.5 254L611 248L613 246L620 246L624 244L630 243L633 240L635 235L637.5 231L641.5 230L643.5 226L644 222L647 218L650 214L653 209L656.5 206.5L659 206.5L662 203L664.5 200L667 200L670 196L672.5 191L673.5 186L674.9 185.9" fill="none" stroke="#3E9A70" stroke-width="3.0" stroke-linejoin="round"/>
<rect x="558.15" y="308.75" width="2.5" height="2.5" fill="#000" transform="rotate(45 559.4 310)"/>
<rect x="565.03" y="301.34" width="2.5" height="2.5" fill="#000" transform="rotate(45 566.28 302.59)"/>
<rect x="571.91" y="293.93" width="2.5" height="2.5" fill="#000" transform="rotate(45 573.16 295.18)"/>
<rect x="578.8" y="286.51" width="2.5" height="2.5" fill="#000" transform="rotate(45 580.05 287.76)"/>
<rect x="585.68" y="279.1" width="2.5" height="2.5" fill="#000" transform="rotate(45 586.93 280.35)"/>
<rect x="592.56" y="271.69" width="2.5" height="2.5" fill="#000" transform="rotate(45 593.81 272.94)"/>
<rect x="599.44" y="264.28" width="2.5" height="2.5" fill="#000" transform="rotate(45 600.69 265.53)"/>
<rect x="606.33" y="256.87" width="2.5" height="2.5" fill="#000" transform="rotate(45 607.58 258.12)"/>
<rect x="613.21" y="249.46" width="2.5" height="2.5" fill="#000" transform="rotate(45 614.46 250.71)"/>
<rect x="620.09" y="242.04" width="2.5" height="2.5" fill="#000" transform="rotate(45 621.34 243.29)"/>
<rect x="626.97" y="234.63" width="2.5" height="2.5" fill="#000" transform="rotate(45 628.22 235.88)"/>
<rect x="633.86" y="227.22" width="2.5" height="2.5" fill="#000" transform="rotate(45 635.11 228.47)"/>
<rect x="640.74" y="219.81" width="2.5" height="2.5" fill="#000" transform="rotate(45 641.99 221.06)"/>
<rect x="647.62" y="212.4" width="2.5" height="2.5" fill="#000" transform="rotate(45 648.87 213.65)"/>
<rect x="654.5" y="204.99" width="2.5" height="2.5" fill="#000" transform="rotate(45 655.75 206.24)"/>
<rect x="661.39" y="197.57" width="2.5" height="2.5" fill="#000" transform="rotate(45 662.64 198.82)"/>
<rect x="668.27" y="190.16" width="2.5" height="2.5" fill="#000" transform="rotate(45 669.52 191.41)"/>
<rect x="675.15" y="182.75" width="2.5" height="2.5" fill="#000" transform="rotate(45 676.4 184)"/>
<text transform="translate(678.8,269.7)" font-size="8.1" font-weight="bold" text-anchor="end" fill="#111">AUC for TC = 0.483</text>
<text transform="translate(678.8,281.5)" font-size="8.1" font-weight="bold" text-anchor="end" fill="#111">95% CI: 0.405−0.561</text>
<rect x="555.2" y="180.4" width="125" height="134.6" fill="none" stroke="#111" stroke-width="1.25"/>
<text transform="translate(550.6,313.6) scale(1,1.07)" font-size="9.85" text-anchor="end" fill="#262626">0.00</text>
<text transform="translate(559.9,326.6)" font-size="9.85" text-anchor="middle" fill="#262626">0.00</text>
<text transform="translate(550.6,282.58) scale(1,1.07)" font-size="9.85" text-anchor="end" fill="#262626">0.25</text>
<text transform="translate(588.65,326.6)" font-size="9.85" text-anchor="middle" fill="#262626">0.25</text>
<text transform="translate(550.6,251.55) scale(1,1.07)" font-size="9.85" text-anchor="end" fill="#262626">0.50</text>
<text transform="translate(617.4,326.6)" font-size="9.85" text-anchor="middle" fill="#262626">0.50</text>
<text transform="translate(550.6,220.53) scale(1,1.07)" font-size="9.85" text-anchor="end" fill="#262626">0.75</text>
<text transform="translate(646.15,326.6)" font-size="9.85" text-anchor="middle" fill="#262626">0.75</text>
<text transform="translate(550.6,189.5) scale(1,1.07)" font-size="9.85" text-anchor="end" fill="#262626">1.00</text>
<text transform="translate(674.9,326.6)" font-size="9.85" text-anchor="middle" fill="#262626">1.00</text>
<path d="M555.2 310h-3M559.9 315v3M555.2 278.98h-3M588.65 315v3M555.2 247.95h-3M617.4 315v3M555.2 216.93h-3M646.15 315v3M555.2 185.9h-3M674.9 315v3" stroke="#111" stroke-width="1"/>
<text transform="translate(617.4,339.2) scale(1,1.07)" font-size="10.45" font-weight="bold" text-anchor="middle" fill="#000">1−Specificity</text>
<text transform="translate(527.2,247.95) rotate(-90) scale(1,1.09)" font-size="10.45" font-weight="bold" text-anchor="middle" fill="#000">Sensitivity</text>
<rect x="44.5" y="352.6" width="128.1" height="132.6" fill="#EFF2F7"/>
<path d="M64.04 352.6V485.2M44.5 465.18H172.6M93.51 352.6V485.2M44.5 434.52H172.6M122.99 352.6V485.2M44.5 403.88H172.6M152.46 352.6V485.2M44.5 373.22H172.6" stroke="#fff" stroke-width="0.9"/>
<path d="M49.3 485.2V352.6M44.5 480.5H172.6M78.77 485.2V352.6M44.5 449.85H172.6M108.25 485.2V352.6M44.5 419.2H172.6M137.72 485.2V352.6M44.5 388.55H172.6M167.2 485.2V352.6M44.5 357.9H172.6" stroke="#C8C8C8" stroke-width="0.9" stroke-dasharray="1.1 3.9 4.9 3.9"/>
<path d="M49.3 480.5L49.3 474.4L49.8 462.7L50.8 454L52.7 451L53.2 441.4L55.2 440.4L56.6 437L58.6 434.6L59.5 430.7L60 426.8L61.5 423.9L63.9 422L65 410L66 408.5L70 409L72 406L74 402L77 398L79 396L80 392L82 389.5L88 389.5L90 386L92 381L96 381L100 379L104 377.5L106.5 374.5L108 374L111 372.5L116 371L123 370L125.5 367L128 365.5L134.5 365L136.5 362L142 361L143 359L150 358.5L152 357.9L167.2 357.9L167.2 480.5Z" fill="#3E9A70" fill-opacity="0.16"/>
<path d="M49.3 480.5L49.3 474.4L49.8 462.7L50.8 454L52.7 451L53.2 441.4L55.2 440.4L56.6 437L58.6 434.6L59.5 430.7L60 426.8L61.5 423.9L63.9 422L65 410L66 408.5L70 409L72 406L74 402L77 398L79 396L80 392L82 389.5L88 389.5L90 386L92 381L96 381L100 379L104 377.5L106.5 374.5L108 374L111 372.5L116 371L123 370L125.5 367L128 365.5L134.5 365L136.5 362L142 361L143 359L150 358.5L152 357.9L167.2 357.9" fill="none" stroke="#3E9A70" stroke-width="3.0" stroke-linejoin="round"/>
<rect x="47.08" y="479.74" width="2.5" height="2.5" fill="#000" transform="rotate(45 48.33 480.99)"/>
<rect x="54.13" y="472.47" width="2.5" height="2.5" fill="#000" transform="rotate(45 55.38 473.72)"/>
<rect x="61.17" y="465.21" width="2.5" height="2.5" fill="#000" transform="rotate(45 62.42 466.46)"/>
<rect x="68.21" y="457.95" width="2.5" height="2.5" fill="#000" transform="rotate(45 69.46 459.2)"/>
<rect x="75.25" y="450.69" width="2.5" height="2.5" fill="#000" transform="rotate(45 76.5 451.94)"/>
<rect x="82.3" y="443.42" width="2.5" height="2.5" fill="#000" transform="rotate(45 83.55 444.67)"/>
<rect x="89.34" y="436.16" width="2.5" height="2.5" fill="#000" transform="rotate(45 90.59 437.41)"/>
<rect x="96.38" y="428.9" width="2.5" height="2.5" fill="#000" transform="rotate(45 97.63 430.15)"/>
<rect x="103.43" y="421.63" width="2.5" height="2.5" fill="#000" transform="rotate(45 104.68 422.88)"/>
<rect x="110.47" y="414.37" width="2.5" height="2.5" fill="#000" transform="rotate(45 111.72 415.62)"/>
<rect x="117.51" y="407.11" width="2.5" height="2.5" fill="#000" transform="rotate(45 118.76 408.36)"/>
<rect x="124.56" y="399.84" width="2.5" height="2.5" fill="#000" transform="rotate(45 125.81 401.09)"/>
<rect x="131.6" y="392.58" width="2.5" height="2.5" fill="#000" transform="rotate(45 132.85 393.83)"/>
<rect x="138.64" y="385.32" width="2.5" height="2.5" fill="#000" transform="rotate(45 139.89 386.57)"/>
<rect x="145.69" y="378.05" width="2.5" height="2.5" fill="#000" transform="rotate(45 146.94 379.3)"/>
<rect x="152.73" y="370.79" width="2.5" height="2.5" fill="#000" transform="rotate(45 153.98 372.04)"/>
<rect x="159.77" y="363.53" width="2.5" height="2.5" fill="#000" transform="rotate(45 161.02 364.78)"/>
<rect x="166.81" y="356.26" width="2.5" height="2.5" fill="#000" transform="rotate(45 168.06 357.51)"/>
<text transform="translate(131.8,440.6)" font-size="7.92" font-weight="bold" text-anchor="middle" fill="#111">AUC = 0.791</text>
<text transform="translate(131.8,451.6)" font-size="7.92" font-weight="bold" text-anchor="middle" fill="#111">95% CI: 0.732−0.851</text>
<rect x="44.5" y="352.6" width="128.1" height="132.6" fill="none" stroke="#111" stroke-width="1.25"/>
<text transform="translate(39.9,484.1) scale(1,1.07)" font-size="9.85" text-anchor="end" fill="#262626">0.00</text>
<text transform="translate(49.3,496.8)" font-size="9.85" text-anchor="middle" fill="#262626">0.00</text>
<text transform="translate(39.9,453.45) scale(1,1.07)" font-size="9.85" text-anchor="end" fill="#262626">0.25</text>
<text transform="translate(78.77,496.8)" font-size="9.85" text-anchor="middle" fill="#262626">0.25</text>
<text transform="translate(39.9,422.8) scale(1,1.07)" font-size="9.85" text-anchor="end" fill="#262626">0.50</text>
<text transform="translate(108.25,496.8)" font-size="9.85" text-anchor="middle" fill="#262626">0.50</text>
<text transform="translate(39.9,392.15) scale(1,1.07)" font-size="9.85" text-anchor="end" fill="#262626">0.75</text>
<text transform="translate(137.72,496.8)" font-size="9.85" text-anchor="middle" fill="#262626">0.75</text>
<text transform="translate(39.9,361.5) scale(1,1.07)" font-size="9.85" text-anchor="end" fill="#262626">1.00</text>
<text transform="translate(167.2,496.8)" font-size="9.85" text-anchor="middle" fill="#262626">1.00</text>
<path d="M44.5 480.5h-3M49.3 485.2v3M44.5 449.85h-3M78.77 485.2v3M44.5 419.2h-3M108.25 485.2v3M44.5 388.55h-3M137.72 485.2v3M44.5 357.9h-3M167.2 485.2v3" stroke="#111" stroke-width="1"/>
<text transform="translate(108.25,509.4) scale(1,1.07)" font-size="10.45" font-weight="bold" text-anchor="middle" fill="#000">1−Specificity</text>
<text transform="translate(16.5,419.2) rotate(-90) scale(1,1.09)" font-size="10.45" font-weight="bold" text-anchor="middle" fill="#000">Sensitivity</text>
<rect x="384.8" y="352.6" width="128.1" height="132.6" fill="#EFF2F7"/>
<path d="M404.34 352.6V485.2M384.8 465.18H512.9M433.81 352.6V485.2M384.8 434.52H512.9M463.29 352.6V485.2M384.8 403.88H512.9M492.76 352.6V485.2M384.8 373.22H512.9" stroke="#fff" stroke-width="0.9"/>
<path d="M389.6 485.2V352.6M384.8 480.5H512.9M419.08 485.2V352.6M384.8 449.85H512.9M448.55 485.2V352.6M384.8 419.2H512.9M478.02 485.2V352.6M384.8 388.55H512.9M507.5 485.2V352.6M384.8 357.9H512.9" stroke="#C8C8C8" stroke-width="0.9" stroke-dasharray="1.1 3.9 4.9 3.9"/>
<path d="M389.6 480.5L391.3 477.3L393.2 475.3L394.2 468.5L395.2 455.9L397.1 455L398.1 450.1L399 439.4L400 426.8L401.5 425.8L402 420L402.5 414L404.5 409.5L406.5 407L408 401L409.5 395.5L415 395.5L418 393.5L420 391L421.5 388L432 388L435.5 387L436 374L438.5 373.5L441 371.5L443.5 370.5L448 370L452 369L458 368.5L460.5 366.5L464.5 365L469 363L473.5 363L476 361L478 360.5L505 360.5L507.5 357.9L507.5 480.5Z" fill="#3E9A70" fill-opacity="0.16"/>
<path d="M389.6 480.5L391.3 477.3L393.2 475.3L394.2 468.5L395.2 455.9L397.1 455L398.1 450.1L399 439.4L400 426.8L401.5 425.8L402 420L402.5 414L404.5 409.5L406.5 407L408 401L409.5 395.5L415 395.5L418 393.5L420 391L421.5 388L432 388L435.5 387L436 374L438.5 373.5L441 371.5L443.5 370.5L448 370L452 369L458 368.5L460.5 366.5L464.5 365L469 363L473.5 363L476 361L478 360.5L505 360.5L507.5 357.9" fill="none" stroke="#3E9A70" stroke-width="3.0" stroke-linejoin="round"/>
<path d="M394.3 471L395.3 457L398.3 447L400.3 425" fill="none" stroke="#3E9A70" stroke-width="4.6" stroke-linejoin="round"/>
<path d="M435.6 388L436.1 373.5" fill="none" stroke="#3E9A70" stroke-width="4.2" stroke-linejoin="round"/>
<rect x="390.63" y="482.69" width="2.5" height="2.5" fill="#000" transform="rotate(45 391.88 483.94)"/>
<rect x="397.83" y="475.58" width="2.5" height="2.5" fill="#000" transform="rotate(45 399.08 476.83)"/>
<rect x="405.03" y="468.46" width="2.5" height="2.5" fill="#000" transform="rotate(45 406.28 469.71)"/>
<rect x="412.23" y="461.35" width="2.5" height="2.5" fill="#000" transform="rotate(45 413.48 462.6)"/>
<rect x="419.43" y="454.24" width="2.5" height="2.5" fill="#000" transform="rotate(45 420.68 455.49)"/>
<rect x="426.63" y="447.12" width="2.5" height="2.5" fill="#000" transform="rotate(45 427.88 448.37)"/>
<rect x="433.83" y="440.01" width="2.5" height="2.5" fill="#000" transform="rotate(45 435.08 441.26)"/>
<rect x="441.03" y="432.89" width="2.5" height="2.5" fill="#000" transform="rotate(45 442.28 434.14)"/>
<rect x="448.23" y="425.78" width="2.5" height="2.5" fill="#000" transform="rotate(45 449.48 427.03)"/>
<rect x="455.43" y="418.67" width="2.5" height="2.5" fill="#000" transform="rotate(45 456.68 419.92)"/>
<rect x="462.63" y="411.55" width="2.5" height="2.5" fill="#000" transform="rotate(45 463.88 412.8)"/>
<rect x="469.83" y="404.44" width="2.5" height="2.5" fill="#000" transform="rotate(45 471.08 405.69)"/>
<rect x="477.03" y="397.32" width="2.5" height="2.5" fill="#000" transform="rotate(45 478.28 398.57)"/>
<rect x="484.23" y="390.21" width="2.5" height="2.5" fill="#000" transform="rotate(45 485.48 391.46)"/>
<rect x="491.43" y="383.1" width="2.5" height="2.5" fill="#000" transform="rotate(45 492.68 384.35)"/>
<rect x="498.63" y="375.98" width="2.5" height="2.5" fill="#000" transform="rotate(45 499.88 377.23)"/>
<rect x="505.83" y="368.87" width="2.5" height="2.5" fill="#000" transform="rotate(45 507.08 370.12)"/>
<text transform="translate(472.1,440.6)" font-size="7.92" font-weight="bold" text-anchor="middle" fill="#111">AUC = 0.793</text>
<text transform="translate(472.1,451.6)" font-size="7.92" font-weight="bold" text-anchor="middle" fill="#111">95% CI: 0.698−0.887</text>
<rect x="384.8" y="352.6" width="128.1" height="132.6" fill="none" stroke="#111" stroke-width="1.25"/>
<text transform="translate(380.2,484.1) scale(1,1.07)" font-size="9.85" text-anchor="end" fill="#262626">0.00</text>
<text transform="translate(389.6,496.8)" font-size="9.85" text-anchor="middle" fill="#262626">0.00</text>
<text transform="translate(380.2,453.45) scale(1,1.07)" font-size="9.85" text-anchor="end" fill="#262626">0.25</text>
<text transform="translate(419.08,496.8)" font-size="9.85" text-anchor="middle" fill="#262626">0.25</text>
<text transform="translate(380.2,422.8) scale(1,1.07)" font-size="9.85" text-anchor="end" fill="#262626">0.50</text>
<text transform="translate(448.55,496.8)" font-size="9.85" text-anchor="middle" fill="#262626">0.50</text>
<text transform="translate(380.2,392.15) scale(1,1.07)" font-size="9.85" text-anchor="end" fill="#262626">0.75</text>
<text transform="translate(478.02,496.8)" font-size="9.85" text-anchor="middle" fill="#262626">0.75</text>
<text transform="translate(380.2,361.5) scale(1,1.07)" font-size="9.85" text-anchor="end" fill="#262626">1.00</text>
<text transform="translate(507.5,496.8)" font-size="9.85" text-anchor="middle" fill="#262626">1.00</text>
<path d="M384.8 480.5h-3M389.6 485.2v3M384.8 449.85h-3M419.08 485.2v3M384.8 419.2h-3M448.55 485.2v3M384.8 388.55h-3M478.02 485.2v3M384.8 357.9h-3M507.5 485.2v3" stroke="#111" stroke-width="1"/>
<text transform="translate(448.55,509.4) scale(1,1.07)" font-size="10.45" font-weight="bold" text-anchor="middle" fill="#000">1−Specificity</text>
<text transform="translate(356.8,419.2) rotate(-90) scale(1,1.09)" font-size="10.45" font-weight="bold" text-anchor="middle" fill="#000">Sensitivity</text>
<rect x="44.5" y="520.6" width="128.1" height="132.6" fill="#EFF2F7"/>
<path d="M64.04 520.6V653.2M44.5 633.17H172.6M93.51 520.6V653.2M44.5 602.52H172.6M122.99 520.6V653.2M44.5 571.88H172.6M152.46 520.6V653.2M44.5 541.23H172.6" stroke="#fff" stroke-width="0.9"/>
<path d="M49.3 653.2V520.6M44.5 648.5H172.6M78.77 653.2V520.6M44.5 617.85H172.6M108.25 653.2V520.6M44.5 587.2H172.6M137.72 653.2V520.6M44.5 556.55H172.6M167.2 653.2V520.6M44.5 525.9H172.6" stroke="#C8C8C8" stroke-width="0.9" stroke-dasharray="1.1 3.9 4.9 3.9"/>
<path d="M49.3 648.5L49.3 628.8L51.3 627.8L51.8 620L53.2 618.1L53.7 605.5L54.7 596.7L56.1 595.8L56.6 591.9L58.6 589.9L59 588L59.5 580L60.5 576L61.5 574L69 574L70 569L72 568L79 568L81 563L84 558L86 557L89 557L92 555L95 552L97 548L99 546L102 545L103 537L113 537L114 535L126 534.5L127.5 532L146 531.5L147.5 529.5L160 529L162 526.5L166.5 526L167.2 525.9L167.2 648.5Z" fill="#3E9A70" fill-opacity="0.16"/>
<path d="M49.3 648.5L49.3 628.8L51.3 627.8L51.8 620L53.2 618.1L53.7 605.5L54.7 596.7L56.1 595.8L56.6 591.9L58.6 589.9L59 588L59.5 580L60.5 576L61.5 574L69 574L70 569L72 568L79 568L81 563L84 558L86 557L89 557L92 555L95 552L97 548L99 546L102 545L103 537L113 537L114 535L126 534.5L127.5 532L146 531.5L147.5 529.5L160 529L162 526.5L166.5 526L167.2 525.9" fill="none" stroke="#3E9A70" stroke-width="3.0" stroke-linejoin="round"/>
<path d="M49.8 646L50.6 628L52.6 618L53.6 600L55.5 593" fill="none" stroke="#3E9A70" stroke-width="4.4" stroke-linejoin="round"/>
<rect x="54.96" y="650.3" width="2.5" height="2.5" fill="#000" transform="rotate(45 56.21 651.55)"/>
<rect x="61.84" y="642.9" width="2.5" height="2.5" fill="#000" transform="rotate(45 63.09 644.15)"/>
<rect x="68.72" y="635.5" width="2.5" height="2.5" fill="#000" transform="rotate(45 69.97 636.75)"/>
<rect x="75.6" y="628.11" width="2.5" height="2.5" fill="#000" transform="rotate(45 76.85 629.36)"/>
<rect x="82.48" y="620.71" width="2.5" height="2.5" fill="#000" transform="rotate(45 83.73 621.96)"/>
<rect x="89.36" y="613.31" width="2.5" height="2.5" fill="#000" transform="rotate(45 90.61 614.56)"/>
<rect x="96.24" y="605.92" width="2.5" height="2.5" fill="#000" transform="rotate(45 97.49 607.17)"/>
<rect x="103.12" y="598.52" width="2.5" height="2.5" fill="#000" transform="rotate(45 104.37 599.77)"/>
<rect x="110" y="591.12" width="2.5" height="2.5" fill="#000" transform="rotate(45 111.25 592.37)"/>
<rect x="116.88" y="583.72" width="2.5" height="2.5" fill="#000" transform="rotate(45 118.13 584.97)"/>
<rect x="123.76" y="576.33" width="2.5" height="2.5" fill="#000" transform="rotate(45 125.01 577.58)"/>
<rect x="130.64" y="568.93" width="2.5" height="2.5" fill="#000" transform="rotate(45 131.89 570.18)"/>
<rect x="137.52" y="561.53" width="2.5" height="2.5" fill="#000" transform="rotate(45 138.77 562.78)"/>
<rect x="144.4" y="554.14" width="2.5" height="2.5" fill="#000" transform="rotate(45 145.65 555.39)"/>
<rect x="151.28" y="546.74" width="2.5" height="2.5" fill="#000" transform="rotate(45 152.53 547.99)"/>
<rect x="158.16" y="539.34" width="2.5" height="2.5" fill="#000" transform="rotate(45 159.41 540.59)"/>
<rect x="165.04" y="531.94" width="2.5" height="2.5" fill="#000" transform="rotate(45 166.29 533.19)"/>
<text transform="translate(131.8,608.6)" font-size="7.92" font-weight="bold" text-anchor="middle" fill="#111">AUC = 0.806</text>
<text transform="translate(131.8,619.6)" font-size="7.92" font-weight="bold" text-anchor="middle" fill="#111">95% CI: 0.717−0.895</text>
<rect x="44.5" y="520.6" width="128.1" height="132.6" fill="none" stroke="#111" stroke-width="1.25"/>
<text transform="translate(39.9,652.1) scale(1,1.07)" font-size="9.85" text-anchor="end" fill="#262626">0.00</text>
<text transform="translate(49.3,664.8)" font-size="9.85" text-anchor="middle" fill="#262626">0.00</text>
<text transform="translate(39.9,621.45) scale(1,1.07)" font-size="9.85" text-anchor="end" fill="#262626">0.25</text>
<text transform="translate(78.77,664.8)" font-size="9.85" text-anchor="middle" fill="#262626">0.25</text>
<text transform="translate(39.9,590.8) scale(1,1.07)" font-size="9.85" text-anchor="end" fill="#262626">0.50</text>
<text transform="translate(108.25,664.8)" font-size="9.85" text-anchor="middle" fill="#262626">0.50</text>
<text transform="translate(39.9,560.15) scale(1,1.07)" font-size="9.85" text-anchor="end" fill="#262626">0.75</text>
<text transform="translate(137.72,664.8)" font-size="9.85" text-anchor="middle" fill="#262626">0.75</text>
<text transform="translate(39.9,529.5) scale(1,1.07)" font-size="9.85" text-anchor="end" fill="#262626">1.00</text>
<text transform="translate(167.2,664.8)" font-size="9.85" text-anchor="middle" fill="#262626">1.00</text>
<path d="M44.5 648.5h-3M49.3 653.2v3M44.5 617.85h-3M78.77 653.2v3M44.5 587.2h-3M108.25 653.2v3M44.5 556.55h-3M137.72 653.2v3M44.5 525.9h-3M167.2 653.2v3" stroke="#111" stroke-width="1"/>
<text transform="translate(108.25,677.4) scale(1,1.07)" font-size="10.45" font-weight="bold" text-anchor="middle" fill="#000">1−Specificity</text>
<text transform="translate(16.5,587.2) rotate(-90) scale(1,1.09)" font-size="10.45" font-weight="bold" text-anchor="middle" fill="#000">Sensitivity</text>
<rect x="384.8" y="520.6" width="128.1" height="132.6" fill="#EFF2F7"/>
<path d="M404.34 520.6V653.2M384.8 633.17H512.9M433.81 520.6V653.2M384.8 602.52H512.9M463.29 520.6V653.2M384.8 571.88H512.9M492.76 520.6V653.2M384.8 541.23H512.9" stroke="#fff" stroke-width="0.9"/>
<path d="M389.6 653.2V520.6M384.8 648.5H512.9M419.08 653.2V520.6M384.8 617.85H512.9M448.55 653.2V520.6M384.8 587.2H512.9M478.02 653.2V520.6M384.8 556.55H512.9M507.5 653.2V520.6M384.8 525.9H512.9" stroke="#C8C8C8" stroke-width="0.9" stroke-dasharray="1.1 3.9 4.9 3.9"/>
<path d="M389.6 648.5C389.82 646.45 390.35 640.21 390.89 636.19C391.44 632.17 392.21 627.98 392.86 624.37C393.52 620.76 394.01 617.81 394.83 614.53C395.65 611.24 396.64 607.96 397.78 604.68C398.93 601.4 400.41 598.11 401.72 594.83C403.04 591.55 404.35 587.94 405.66 584.99C406.97 582.03 408.29 579.41 409.6 577.11C410.91 574.81 412.55 573.01 413.54 571.2C414.52 569.4 414.36 568.25 415.51 566.28C416.66 564.31 418.63 561.52 420.43 559.39C422.24 557.25 424.53 554.95 426.34 553.48C428.14 552 429.46 552 431.26 550.52C433.07 549.05 435.2 546.16 437.17 544.62C439.14 543.07 440.78 542.48 443.08 541.27C445.38 540.05 448.33 538.64 450.96 537.33C453.58 536.02 455.88 534.47 458.83 533.39C461.79 532.31 465.4 531.59 468.68 530.83C471.96 530.08 475.24 529.42 478.53 528.86C481.81 528.3 485.09 527.91 488.37 527.48C491.65 527.06 495.03 526.57 498.22 526.3C501.41 526.04 505.95 525.97 507.5 525.9L507.5 648.5Z" fill="#3E9A70" fill-opacity="0.16"/>
<path d="M389.6 648.5C389.82 646.45 390.35 640.21 390.89 636.19C391.44 632.17 392.21 627.98 392.86 624.37C393.52 620.76 394.01 617.81 394.83 614.53C395.65 611.24 396.64 607.96 397.78 604.68C398.93 601.4 400.41 598.11 401.72 594.83C403.04 591.55 404.35 587.94 405.66 584.99C406.97 582.03 408.29 579.41 409.6 577.11C410.91 574.81 412.55 573.01 413.54 571.2C414.52 569.4 414.36 568.25 415.51 566.28C416.66 564.31 418.63 561.52 420.43 559.39C422.24 557.25 424.53 554.95 426.34 553.48C428.14 552 429.46 552 431.26 550.52C433.07 549.05 435.2 546.16 437.17 544.62C439.14 543.07 440.78 542.48 443.08 541.27C445.38 540.05 448.33 538.64 450.96 537.33C453.58 536.02 455.88 534.47 458.83 533.39C461.79 532.31 465.4 531.59 468.68 530.83C471.96 530.08 475.24 529.42 478.53 528.86C481.81 528.3 485.09 527.91 488.37 527.48C491.65 527.06 495.03 526.57 498.22 526.3C501.41 526.04 505.95 525.97 507.5 525.9" fill="none" stroke="#3E9A70" stroke-width="3.0" stroke-linejoin="round"/>
<rect x="395.55" y="650.3" width="2.5" height="2.5" fill="#000" transform="rotate(45 396.8 651.55)"/>
<rect x="402.43" y="642.9" width="2.5" height="2.5" fill="#000" transform="rotate(45 403.68 644.15)"/>
<rect x="409.31" y="635.5" width="2.5" height="2.5" fill="#000" transform="rotate(45 410.56 636.75)"/>
<rect x="416.19" y="628.11" width="2.5" height="2.5" fill="#000" transform="rotate(45 417.44 629.36)"/>
<rect x="423.07" y="620.71" width="2.5" height="2.5" fill="#000" transform="rotate(45 424.32 621.96)"/>
<rect x="429.95" y="613.31" width="2.5" height="2.5" fill="#000" transform="rotate(45 431.2 614.56)"/>
<rect x="436.83" y="605.92" width="2.5" height="2.5" fill="#000" transform="rotate(45 438.08 607.17)"/>
<rect x="443.71" y="598.52" width="2.5" height="2.5" fill="#000" transform="rotate(45 444.96 599.77)"/>
<rect x="450.59" y="591.12" width="2.5" height="2.5" fill="#000" transform="rotate(45 451.84 592.37)"/>
<rect x="457.47" y="583.72" width="2.5" height="2.5" fill="#000" transform="rotate(45 458.72 584.97)"/>
<rect x="464.35" y="576.33" width="2.5" height="2.5" fill="#000" transform="rotate(45 465.6 577.58)"/>
<rect x="471.23" y="568.93" width="2.5" height="2.5" fill="#000" transform="rotate(45 472.48 570.18)"/>
<rect x="478.11" y="561.53" width="2.5" height="2.5" fill="#000" transform="rotate(45 479.36 562.78)"/>
<rect x="484.99" y="554.14" width="2.5" height="2.5" fill="#000" transform="rotate(45 486.24 555.39)"/>
<rect x="491.87" y="546.74" width="2.5" height="2.5" fill="#000" transform="rotate(45 493.12 547.99)"/>
<rect x="498.75" y="539.34" width="2.5" height="2.5" fill="#000" transform="rotate(45 500 540.59)"/>
<rect x="505.63" y="531.94" width="2.5" height="2.5" fill="#000" transform="rotate(45 506.88 533.19)"/>
<text transform="translate(472.1,608.6)" font-size="7.92" font-weight="bold" text-anchor="middle" fill="#111">AUC = 0.796</text>
<text transform="translate(472.1,619.6)" font-size="7.92" font-weight="bold" text-anchor="middle" fill="#111">95% CI: 0.785−0.808</text>
<rect x="384.8" y="520.6" width="128.1" height="132.6" fill="none" stroke="#111" stroke-width="1.25"/>
<text transform="translate(380.2,652.1) scale(1,1.07)" font-size="9.85" text-anchor="end" fill="#262626">0.00</text>
<text transform="translate(389.6,664.8)" font-size="9.85" text-anchor="middle" fill="#262626">0.00</text>
<text transform="translate(380.2,621.45) scale(1,1.07)" font-size="9.85" text-anchor="end" fill="#262626">0.25</text>
<text transform="translate(419.08,664.8)" font-size="9.85" text-anchor="middle" fill="#262626">0.25</text>
<text transform="translate(380.2,590.8) scale(1,1.07)" font-size="9.85" text-anchor="end" fill="#262626">0.50</text>
<text transform="translate(448.55,664.8)" font-size="9.85" text-anchor="middle" fill="#262626">0.50</text>
<text transform="translate(380.2,560.15) scale(1,1.07)" font-size="9.85" text-anchor="end" fill="#262626">0.75</text>
<text transform="translate(478.02,664.8)" font-size="9.85" text-anchor="middle" fill="#262626">0.75</text>
<text transform="translate(380.2,529.5) scale(1,1.07)" font-size="9.85" text-anchor="end" fill="#262626">1.00</text>
<text transform="translate(507.5,664.8)" font-size="9.85" text-anchor="middle" fill="#262626">1.00</text>
<path d="M384.8 648.5h-3M389.6 653.2v3M384.8 617.85h-3M419.08 653.2v3M384.8 587.2h-3M448.55 653.2v3M384.8 556.55h-3M478.02 653.2v3M384.8 525.9h-3M507.5 653.2v3" stroke="#111" stroke-width="1"/>
<text transform="translate(448.55,677.4) scale(1,1.07)" font-size="10.45" font-weight="bold" text-anchor="middle" fill="#000">1−Specificity</text>
<text transform="translate(356.8,587.2) rotate(-90) scale(1,1.09)" font-size="10.45" font-weight="bold" text-anchor="middle" fill="#000">Sensitivity</text>
<rect x="211.9" y="352.6" width="128.4" height="132.7" fill="#EFF2F7"/>
<path d="M211.9 476.47H340.3M211.9 435.93H340.3M211.9 395.38H340.3M211.9 354.83H340.3" stroke="#fff" stroke-width="0.9"/>
<path d="M211.9 456.2H340.3M211.9 415.65H340.3M211.9 375.1H340.3M246.45 485.3V352.6M305.5 485.3V352.6" stroke="#C8C8C8" stroke-width="0.9" stroke-dasharray="1.1 3.9 4.9 3.9"/>
<path d="M248.05 401.3C248.05 401.92 248 403.37 248.05 405C248.1 406.63 248.1 409.1 248.35 411.1C248.6 413.1 249.17 415.52 249.55 417C249.93 418.48 250.13 417.88 250.65 420C251.17 422.12 252.03 427.27 252.65 429.7C253.27 432.13 253.47 433.15 254.35 434.6C255.23 436.05 256.38 436.78 257.95 438.4C259.52 440.02 261.8 442.2 263.75 444.3C265.7 446.4 268.18 448.9 269.65 451C271.12 453.1 272.17 455.12 272.55 456.9C272.93 458.68 273.25 459.6 271.95 461.7C270.65 463.8 267.08 467.23 264.75 469.5C262.42 471.77 260.1 473.47 257.95 475.3C255.8 477.13 252.87 479.63 251.85 480.5L241.05 480.5C240.03 479.63 237.1 477.13 234.95 475.3C232.8 473.47 230.48 471.77 228.15 469.5C225.82 467.23 222.25 463.8 220.95 461.7C219.65 459.6 219.97 458.68 220.35 456.9C220.73 455.12 221.78 453.1 223.25 451C224.72 448.9 227.2 446.4 229.15 444.3C231.1 442.2 233.38 440.02 234.95 438.4C236.52 436.78 237.67 436.05 238.55 434.6C239.43 433.15 239.63 432.13 240.25 429.7C240.87 427.27 241.73 422.12 242.25 420C242.77 417.88 242.97 418.48 243.35 417C243.73 415.52 244.3 413.1 244.55 411.1C244.8 409.1 244.8 406.63 244.85 405C244.9 403.37 244.85 401.92 244.85 401.3Z" fill="#80A0C8" fill-opacity="0.95" stroke="#000" stroke-width="1.5" stroke-linejoin="round"/>
<path d="M306.8 357.2C306.82 357.98 306.6 359.83 306.9 361.9C307.2 363.97 307.95 366.47 308.6 369.6C309.25 372.73 309.73 376.42 310.8 380.7C311.87 384.98 313.58 390.88 315 395.3C316.42 399.72 317.6 403.58 319.3 407.2C321 410.82 323.4 413.73 325.2 417C327 420.27 328.95 423.18 330.1 426.8C331.25 430.42 332.1 435.08 332.1 438.7C332.1 442.32 331.42 445.22 330.1 448.5C328.78 451.78 326.33 455.45 324.2 458.4C322.07 461.35 319.1 464.4 317.3 466.2C315.5 468 314.05 468.7 313.4 469.2L297.6 469.2C296.95 468.7 295.5 468 293.7 466.2C291.9 464.4 288.93 461.35 286.8 458.4C284.67 455.45 282.22 451.78 280.9 448.5C279.58 445.22 278.9 442.32 278.9 438.7C278.9 435.08 279.75 430.42 280.9 426.8C282.05 423.18 284 420.27 285.8 417C287.6 413.73 290 410.82 291.7 407.2C293.4 403.58 294.58 399.72 296 395.3C297.42 390.88 299.13 384.98 300.2 380.7C301.27 376.42 301.75 372.73 302.4 369.6C303.05 366.47 303.8 363.97 304.1 361.9C304.4 359.83 304.18 357.98 304.2 357.2Z" fill="#D39968" fill-opacity="0.95" stroke="#000" stroke-width="1.5" stroke-linejoin="round"/>
<path d="M246.45 415V443.4M246.45 464.1V480.5" stroke="#000" stroke-width="1.8"/>
<rect x="234.6" y="443.4" width="24.1" height="20.7" fill="none" stroke="#000" stroke-width="1.9"/>
<path d="M234.6 456.3H258.7" stroke="#000" stroke-width="3.4"/>
<path d="M305.5 369.7V414.8M305.5 448.1V469.2" stroke="#000" stroke-width="1.8"/>
<rect x="293.3" y="414.8" width="24.1" height="33.3" fill="none" stroke="#000" stroke-width="1.9"/>
<path d="M293.3 432.3H317.4" stroke="#000" stroke-width="3.4"/>
<circle cx="246.45" cy="401.8" r="1.95" fill="#000"/>
<circle cx="246.45" cy="408" r="1.95" fill="#000"/>
<circle cx="305.5" cy="358" r="1.95" fill="#000"/>
<text transform="translate(279.1,365)" font-size="8.6" text-anchor="middle" fill="#222">***</text>
<rect x="211.9" y="352.6" width="128.4" height="132.7" fill="none" stroke="#111" stroke-width="1.25"/>
<text transform="translate(207.3,459.8) scale(1,1.07)" font-size="9.85" text-anchor="end" fill="#262626">0.4</text>
<text transform="translate(207.3,419.25) scale(1,1.07)" font-size="9.85" text-anchor="end" fill="#262626">0.6</text>
<text transform="translate(207.3,378.7) scale(1,1.07)" font-size="9.85" text-anchor="end" fill="#262626">0.8</text>
<text transform="translate(246.45,496.9)" font-size="9.85" text-anchor="middle" fill="#262626">No</text>
<text transform="translate(305.5,496.9)" font-size="9.85" text-anchor="middle" fill="#262626">Yes</text>
<path d="M211.9 456.2h-2.7M211.9 415.65h-2.7M211.9 375.1h-2.7M246.45 485.3v2.7M305.5 485.3v2.7" stroke="#111" stroke-width="1"/>
<text transform="translate(276.1,508.2) scale(1,1.07)" font-size="10.45" font-weight="bold" text-anchor="middle" fill="#000">MASH</text>
<text transform="translate(189.5,416.35) rotate(-90) scale(1,1.09)" font-size="10.45" font-weight="bold" text-anchor="middle" fill="#000">MASHRisk</text>
<rect x="552.2" y="352.6" width="128.4" height="132.7" fill="#EFF2F7"/>
<path d="M552.2 469.11H680.6M552.2 444.93H680.6M552.2 420.75H680.6M552.2 396.57H680.6M552.2 372.39H680.6" stroke="#fff" stroke-width="0.9"/>
<path d="M552.2 481.2H680.6M552.2 457.02H680.6M552.2 432.84H680.6M552.2 408.66H680.6M552.2 384.48H680.6M552.2 360.3H680.6M586.75 485.3V352.6M645.8 485.3V352.6" stroke="#C8C8C8" stroke-width="0.9" stroke-dasharray="1.1 3.9 4.9 3.9"/>
<path d="M588.15 360.5C588.13 362.37 588.07 367.2 588.05 371.7C588.03 376.2 587.97 383.23 588.05 387.5C588.13 391.77 588.27 394.02 588.55 397.3C588.83 400.58 589.22 404.25 589.75 407.2C590.28 410.15 591.03 412.87 591.75 415C592.47 417.13 593.02 418.03 594.05 420C595.08 421.97 596.13 424.67 597.95 426.8C599.77 428.93 602.78 430.5 604.95 432.8C607.12 435.1 609.48 437.98 610.95 440.6C612.42 443.22 613.62 445.22 613.75 448.5C613.88 451.78 612.9 456.68 611.75 460.3C610.6 463.92 608.77 467.5 606.85 470.2C604.93 472.9 601.35 475.45 600.25 476.5L573.25 476.5C572.15 475.45 568.57 472.9 566.65 470.2C564.73 467.5 562.9 463.92 561.75 460.3C560.6 456.68 559.62 451.78 559.75 448.5C559.88 445.22 561.08 443.22 562.55 440.6C564.02 437.98 566.38 435.1 568.55 432.8C570.72 430.5 573.73 428.93 575.55 426.8C577.37 424.67 578.42 421.97 579.45 420C580.48 418.03 581.03 417.13 581.75 415C582.47 412.87 583.22 410.15 583.75 407.2C584.28 404.25 584.67 400.58 584.95 397.3C585.23 394.02 585.37 391.77 585.45 387.5C585.53 383.23 585.47 376.2 585.45 371.7C585.43 367.2 585.37 362.37 585.35 360.5Z" fill="#80A0C8" fill-opacity="0.95" stroke="#000" stroke-width="1.5" stroke-linejoin="round"/>
<path d="M647 357.9C646.93 359.22 646.53 363.5 646.6 365.8C646.67 368.1 646.78 369.73 647.4 371.7C648.02 373.67 649.32 375.3 650.3 377.6C651.28 379.9 652.32 382.22 653.3 385.5C654.28 388.78 655.05 394.02 656.2 397.3C657.35 400.58 658.22 402.25 660.2 405.2C662.18 408.15 666.13 411.72 668.1 415C670.07 418.28 671.35 422.27 672 424.9C672.65 427.53 672.65 428.18 672 430.8C671.35 433.42 670.07 437.32 668.1 440.6C666.13 443.88 662.83 446.88 660.2 450.5C657.57 454.12 654.27 458.7 652.3 462.3C650.33 465.9 649.32 469.15 648.4 472.1C647.48 475.05 647.07 478.68 646.8 480L644.8 480C644.53 478.68 644.12 475.05 643.2 472.1C642.28 469.15 641.27 465.9 639.3 462.3C637.33 458.7 634.03 454.12 631.4 450.5C628.77 446.88 625.47 443.88 623.5 440.6C621.53 437.32 620.25 433.42 619.6 430.8C618.95 428.18 618.95 427.53 619.6 424.9C620.25 422.27 621.53 418.28 623.5 415C625.47 411.72 629.42 408.15 631.4 405.2C633.38 402.25 634.25 400.58 635.4 397.3C636.55 394.02 637.32 388.78 638.3 385.5C639.28 382.22 640.32 379.9 641.3 377.6C642.28 375.3 643.58 373.67 644.2 371.7C644.82 369.73 644.93 368.1 645 365.8C645.07 363.5 644.67 359.22 644.6 357.9Z" fill="#D39968" fill-opacity="0.95" stroke="#000" stroke-width="1.5" stroke-linejoin="round"/>
<path d="M586.75 406.2V437.7M586.75 464.3V476.5" stroke="#000" stroke-width="1.8"/>
<rect x="574.7" y="437.7" width="24.6" height="26.6" fill="none" stroke="#000" stroke-width="1.9"/>
<path d="M574.7 450.2H599.3" stroke="#000" stroke-width="3.4"/>
<path d="M645.8 382.5V410.1M645.8 439.6V480" stroke="#000" stroke-width="1.8"/>
<rect x="633.7" y="410.1" width="24.7" height="29.5" fill="none" stroke="#000" stroke-width="1.9"/>
<path d="M633.7 425.9H658.4" stroke="#000" stroke-width="3.4"/>
<circle cx="586.75" cy="361" r="1.95" fill="#000"/>
<circle cx="586.75" cy="362.5" r="1.95" fill="#000"/>
<circle cx="586.75" cy="386.5" r="1.95" fill="#000"/>
<circle cx="645.8" cy="358.8" r="1.95" fill="#000"/>
<circle cx="645.8" cy="360" r="1.95" fill="#000"/>
<circle cx="645.8" cy="478.5" r="1.95" fill="#000"/>
<circle cx="645.8" cy="480" r="1.95" fill="#000"/>
<text transform="translate(619.4,365)" font-size="8.6" text-anchor="middle" fill="#222">***</text>
<rect x="552.2" y="352.6" width="128.4" height="132.7" fill="none" stroke="#111" stroke-width="1.25"/>
<text transform="translate(547.6,484.8) scale(1,1.07)" font-size="9.85" text-anchor="end" fill="#262626">0.3</text>
<text transform="translate(547.6,460.62) scale(1,1.07)" font-size="9.85" text-anchor="end" fill="#262626">0.4</text>
<text transform="translate(547.6,436.44) scale(1,1.07)" font-size="9.85" text-anchor="end" fill="#262626">0.5</text>
<text transform="translate(547.6,412.26) scale(1,1.07)" font-size="9.85" text-anchor="end" fill="#262626">0.6</text>
<text transform="translate(547.6,388.08) scale(1,1.07)" font-size="9.85" text-anchor="end" fill="#262626">0.7</text>
<text transform="translate(547.6,363.9) scale(1,1.07)" font-size="9.85" text-anchor="end" fill="#262626">0.8</text>
<text transform="translate(586.75,496.9)" font-size="9.85" text-anchor="middle" fill="#262626">No</text>
<text transform="translate(645.8,496.9)" font-size="9.85" text-anchor="middle" fill="#262626">Yes</text>
<path d="M552.2 481.2h-2.7M552.2 457.02h-2.7M552.2 432.84h-2.7M552.2 408.66h-2.7M552.2 384.48h-2.7M552.2 360.3h-2.7M586.75 485.3v2.7M645.8 485.3v2.7" stroke="#111" stroke-width="1"/>
<text transform="translate(616.4,508.2) scale(1,1.07)" font-size="10.45" font-weight="bold" text-anchor="middle" fill="#000">MASH</text>
<text transform="translate(529.8,416.35) rotate(-90) scale(1,1.09)" font-size="10.45" font-weight="bold" text-anchor="middle" fill="#000">MASHRisk</text>
<rect x="211.9" y="520.6" width="128.4" height="132.7" fill="#EFF2F7"/>
<path d="M211.9 640.05H340.3M211.9 598.95H340.3M211.9 557.85H340.3" stroke="#fff" stroke-width="0.9"/>
<path d="M211.9 619.5H340.3M211.9 578.4H340.3M211.9 537.3H340.3M246.45 653.3V520.6M305.5 653.3V520.6" stroke="#C8C8C8" stroke-width="0.9" stroke-dasharray="1.1 3.9 4.9 3.9"/>
<path d="M247.95 557.8C247.95 559.7 247.93 565 247.95 569.2C247.97 573.4 247.93 579.05 248.05 583C248.17 586.95 248.2 590.43 248.65 592.9C249.1 595.37 249.32 596.17 250.75 597.8C252.18 599.43 254.98 600.9 257.25 602.7C259.52 604.5 262.5 606.3 264.35 608.6C266.2 610.9 267.53 614.2 268.35 616.5C269.17 618.8 268.53 620.27 269.25 622.4C269.97 624.53 272.68 627 272.65 629.3C272.62 631.6 270.92 634.07 269.05 636.2C267.18 638.33 264.32 640.12 261.45 642.1C258.58 644.08 253.45 647.1 251.85 648.1L241.05 648.1C239.45 647.1 234.32 644.08 231.45 642.1C228.58 640.12 225.72 638.33 223.85 636.2C221.98 634.07 220.28 631.6 220.25 629.3C220.22 627 222.93 624.53 223.65 622.4C224.37 620.27 223.73 618.8 224.55 616.5C225.37 614.2 226.7 610.9 228.55 608.6C230.4 606.3 233.38 604.5 235.65 602.7C237.92 600.9 240.72 599.43 242.15 597.8C243.58 596.17 243.8 595.37 244.25 592.9C244.7 590.43 244.73 586.95 244.85 583C244.97 579.05 244.93 573.4 244.95 569.2C244.97 565 244.95 559.7 244.95 557.8Z" fill="#80A0C8" fill-opacity="0.95" stroke="#000" stroke-width="1.5" stroke-linejoin="round"/>
<path d="M308.5 525.9C308.65 526.88 308.58 528.85 309.4 531.8C310.22 534.75 311.92 539.33 313.4 543.6C314.88 547.87 316.5 552.47 318.3 557.4C320.1 562.33 322.72 568.6 324.2 573.2C325.68 577.8 326.53 581.4 327.2 585C327.87 588.6 327.72 591.85 328.2 594.8C328.68 597.75 329.45 599.73 330.1 602.7C330.75 605.67 332.1 609.63 332.1 612.6C332.1 615.57 331.58 617.55 330.1 620.5C328.62 623.45 325.33 627.52 323.2 630.3C321.07 633.08 318.93 635.4 317.3 637.2C315.67 639 314.05 640.45 313.4 641.1L297.6 641.1C296.95 640.45 295.33 639 293.7 637.2C292.07 635.4 289.93 633.08 287.8 630.3C285.67 627.52 282.38 623.45 280.9 620.5C279.42 617.55 278.9 615.57 278.9 612.6C278.9 609.63 280.25 605.67 280.9 602.7C281.55 599.73 282.32 597.75 282.8 594.8C283.28 591.85 283.13 588.6 283.8 585C284.47 581.4 285.32 577.8 286.8 573.2C288.28 568.6 290.9 562.33 292.7 557.4C294.5 552.47 296.12 547.87 297.6 543.6C299.08 539.33 300.78 534.75 301.6 531.8C302.42 528.85 302.35 526.88 302.5 525.9Z" fill="#D39968" fill-opacity="0.95" stroke="#000" stroke-width="1.5" stroke-linejoin="round"/>
<path d="M246.45 585V611.6M246.45 632.3V648" stroke="#000" stroke-width="1.8"/>
<rect x="234.6" y="611.6" width="24.1" height="20.7" fill="none" stroke="#000" stroke-width="1.9"/>
<path d="M234.6 623.4H258.7" stroke="#000" stroke-width="3.4"/>
<path d="M305.5 525.9V573.6M305.5 614.9V641.1" stroke="#000" stroke-width="1.8"/>
<rect x="293.3" y="573.6" width="24.1" height="41.3" fill="none" stroke="#000" stroke-width="1.9"/>
<path d="M293.3 595.4H317.4" stroke="#000" stroke-width="3.4"/>
<circle cx="246.45" cy="558.2" r="1.95" fill="#000"/>
<circle cx="246.45" cy="559.8" r="1.95" fill="#000"/>
<circle cx="246.45" cy="568.8" r="1.95" fill="#000"/>
<text transform="translate(279.1,534.9)" font-size="8.6" text-anchor="middle" fill="#222">***</text>
<rect x="211.9" y="520.6" width="128.4" height="132.7" fill="none" stroke="#111" stroke-width="1.25"/>
<text transform="translate(207.3,623.1) scale(1,1.07)" font-size="9.85" text-anchor="end" fill="#262626">0.4</text>
<text transform="translate(207.3,582) scale(1,1.07)" font-size="9.85" text-anchor="end" fill="#262626">0.6</text>
<text transform="translate(207.3,540.9) scale(1,1.07)" font-size="9.85" text-anchor="end" fill="#262626">0.8</text>
<text transform="translate(246.45,664.9)" font-size="9.85" text-anchor="middle" fill="#262626">No</text>
<text transform="translate(305.5,664.9)" font-size="9.85" text-anchor="middle" fill="#262626">Yes</text>
<path d="M211.9 619.5h-2.7M211.9 578.4h-2.7M211.9 537.3h-2.7M246.45 653.3v2.7M305.5 653.3v2.7" stroke="#111" stroke-width="1"/>
<text transform="translate(276.1,676.2) scale(1,1.07)" font-size="10.45" font-weight="bold" text-anchor="middle" fill="#000">MASH</text>
<text transform="translate(189.5,584.35) rotate(-90) scale(1,1.09)" font-size="10.45" font-weight="bold" text-anchor="middle" fill="#000">MASHRisk</text>
<rect x="552.2" y="520.6" width="128.4" height="132.7" fill="#EFF2F7"/>
<path d="M552.2 632.69H680.6M552.2 602.06H680.6M552.2 571.44H680.6M552.2 540.81H680.6" stroke="#fff" stroke-width="0.9"/>
<path d="M552.2 648H680.6M552.2 617.38H680.6M552.2 586.75H680.6M552.2 556.12H680.6M552.2 525.5H680.6M586.75 653.3V520.6M645.8 653.3V520.6" stroke="#C8C8C8" stroke-width="0.9" stroke-dasharray="1.1 3.9 4.9 3.9"/>
<path d="M588.75 616.5C588.97 617.17 589.17 619.18 590.05 620.5C590.93 621.82 592.23 622.93 594.05 624.4C595.87 625.87 598.5 627.67 600.95 629.3C603.4 630.93 606.72 632.78 608.75 634.2C610.78 635.62 613.15 636.75 613.15 637.8C613.15 638.85 611.12 639.62 608.75 640.5C606.38 641.38 602.07 642.33 598.95 643.1C595.83 643.87 591.92 644.28 590.05 645.1C588.18 645.92 588.13 647.52 587.75 648L585.75 648C585.37 647.52 585.32 645.92 583.45 645.1C581.58 644.28 577.67 643.87 574.55 643.1C571.43 642.33 567.12 641.38 564.75 640.5C562.38 639.62 560.35 638.85 560.35 637.8C560.35 636.75 562.72 635.62 564.75 634.2C566.78 632.78 570.1 630.93 572.55 629.3C575 627.67 577.63 625.87 579.45 624.4C581.27 622.93 582.57 621.82 583.45 620.5C584.33 619.18 584.53 617.17 584.75 616.5Z" fill="#80A0C8" fill-opacity="0.95" stroke="#000" stroke-width="1.5" stroke-linejoin="round"/>
<path d="M647.3 600.8C647.48 601.45 647.23 602.42 648.4 604.7C649.57 606.98 652.02 611.87 654.3 614.5C656.58 617.13 659.15 618.27 662.1 620.5C665.05 622.73 671.33 625.62 672 627.9C672.67 630.18 669.05 632.17 666.1 634.2C663.15 636.23 657.52 638.28 654.3 640.1C651.08 641.92 648.05 644.27 646.8 645.1L644.8 645.1C643.55 644.27 640.52 641.92 637.3 640.1C634.08 638.28 628.45 636.23 625.5 634.2C622.55 632.17 618.93 630.18 619.6 627.9C620.27 625.62 626.55 622.73 629.5 620.5C632.45 618.27 635.02 617.13 637.3 614.5C639.58 611.87 642.03 606.98 643.2 604.7C644.37 602.42 644.12 601.45 644.3 600.8Z" fill="#D39968" fill-opacity="0.95" stroke="#000" stroke-width="1.5" stroke-linejoin="round"/>
<path d="M586.75 616V630.3M586.75 639.2V648" stroke="#000" stroke-width="1.8"/>
<rect x="574.7" y="630.3" width="24.6" height="8.9" fill="none" stroke="#000" stroke-width="1.9"/>
<path d="M574.7 634.8H599.3" stroke="#000" stroke-width="3.4"/>
<path d="M645.8 600V617.9M645.8 630.9V645" stroke="#000" stroke-width="1.8"/>
<rect x="633.7" y="617.9" width="24.7" height="13" fill="none" stroke="#000" stroke-width="1.9"/>
<path d="M633.7 626.4H658.4" stroke="#000" stroke-width="3.4"/>
<path d="M586.75 524.8V617" stroke="#000" stroke-width="1.6" stroke-linecap="round"/>
<circle cx="586.75" cy="524.9" r="1.95" fill="#000"/>
<circle cx="586.75" cy="526.9" r="1.95" fill="#000"/>
<circle cx="586.75" cy="528.9" r="1.95" fill="#000"/>
<circle cx="586.75" cy="530.8" r="1.95" fill="#000"/>
<circle cx="586.75" cy="546.6" r="1.95" fill="#000"/>
<circle cx="586.75" cy="549.5" r="1.95" fill="#000"/>
<circle cx="586.75" cy="555.5" r="1.95" fill="#000"/>
<circle cx="586.75" cy="557.4" r="1.95" fill="#000"/>
<circle cx="586.75" cy="565.3" r="1.95" fill="#000"/>
<circle cx="586.75" cy="567.3" r="1.95" fill="#000"/>
<circle cx="586.75" cy="570.2" r="1.95" fill="#000"/>
<path d="M586.75 572V616.5" stroke="#000" stroke-width="4.0" stroke-linecap="round"/>
<path d="M645.8 552.5V601" stroke="#000" stroke-width="1.6" stroke-linecap="round"/>
<circle cx="645.8" cy="552.5" r="1.95" fill="#000"/>
<circle cx="645.8" cy="560.4" r="1.95" fill="#000"/>
<circle cx="645.8" cy="572.2" r="1.95" fill="#000"/>
<circle cx="645.8" cy="575.2" r="1.95" fill="#000"/>
<path d="M645.8 578.5V601" stroke="#000" stroke-width="3.6" stroke-linecap="round"/>
<text transform="translate(619.4,534.9)" font-size="8.6" text-anchor="middle" fill="#222">***</text>
<rect x="552.2" y="520.6" width="128.4" height="132.7" fill="none" stroke="#111" stroke-width="1.25"/>
<text transform="translate(547.6,651.6) scale(1,1.07)" font-size="9.85" text-anchor="end" fill="#262626">0.2</text>
<text transform="translate(547.6,620.98) scale(1,1.07)" font-size="9.85" text-anchor="end" fill="#262626">0.4</text>
<text transform="translate(547.6,590.35) scale(1,1.07)" font-size="9.85" text-anchor="end" fill="#262626">0.6</text>
<text transform="translate(547.6,559.73) scale(1,1.07)" font-size="9.85" text-anchor="end" fill="#262626">0.8</text>
<text transform="translate(547.6,529.1) scale(1,1.07)" font-size="9.85" text-anchor="end" fill="#262626">1.0</text>
<text transform="translate(586.75,664.9)" font-size="9.85" text-anchor="middle" fill="#262626">No</text>
<text transform="translate(645.8,664.9)" font-size="9.85" text-anchor="middle" fill="#262626">Yes</text>
<path d="M552.2 648h-2.7M552.2 617.38h-2.7M552.2 586.75h-2.7M552.2 556.12h-2.7M552.2 525.5h-2.7M586.75 653.3v2.7M645.8 653.3v2.7" stroke="#111" stroke-width="1"/>
<text transform="translate(616.4,676.2) scale(1,1.07)" font-size="10.45" font-weight="bold" text-anchor="middle" fill="#000">MASH</text>
<text transform="translate(529.8,584.35) rotate(-90) scale(1,1.09)" font-size="10.45" font-weight="bold" text-anchor="middle" fill="#000">MASHRisk</text>
</svg></body></html>
